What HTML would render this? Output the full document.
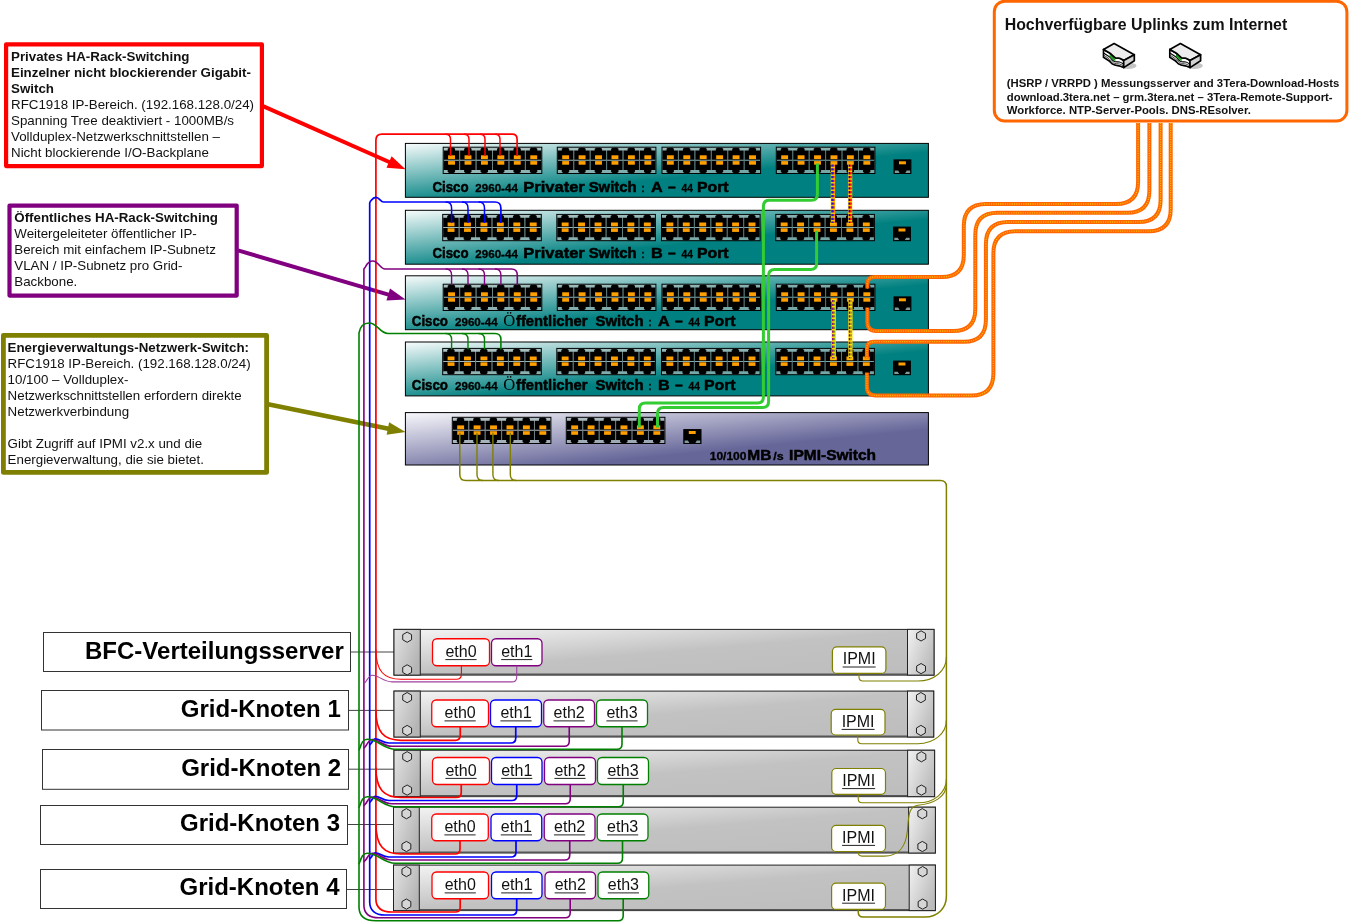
<!DOCTYPE html>
<html lang="de"><head><meta charset="utf-8"><title>Netzwerk</title>
<style>
html,body{margin:0;padding:0;background:#fff;}
body{width:1349px;height:922px;overflow:hidden;}
svg{display:block;font-family:'Liberation Sans', Arial, sans-serif;will-change:transform;}
.ann{font-size:13.33px;fill:#111;}
.b{font-weight:bold;}
.lbl{font-size:24px;font-weight:bold;fill:#000;text-anchor:end;}
.eth{font-size:16px;fill:#111;text-anchor:middle;}
.sw{font-weight:bold;fill:#000;}
.w{fill:none;stroke-linecap:butt;stroke-linejoin:round;}
</style></head><body>
<svg width="1349" height="922" viewBox="0 0 1349 922">
<defs>
<linearGradient id="gsw" x1="0" y1="0" x2="1" y2="1"><stop offset="0" stop-color="#f8fcfc"/><stop offset="0.58" stop-color="#008080"/><stop offset="1" stop-color="#008080"/></linearGradient>
<linearGradient id="gip" x1="0" y1="0" x2="1" y2="1"><stop offset="0" stop-color="#f8f8fc"/><stop offset="0.66" stop-color="#666699"/><stop offset="1" stop-color="#666699"/></linearGradient>
<linearGradient id="gsv" x1="0" y1="0" x2="1" y2="1"><stop offset="0" stop-color="#f6f6f6"/><stop offset="0.5" stop-color="#c2c2c2"/><stop offset="1" stop-color="#bdbdbd"/></linearGradient>
<linearGradient id="gear" x1="0" y1="0" x2="1" y2="0.6"><stop offset="0" stop-color="#e4e4e4"/><stop offset="1" stop-color="#b4b4b4"/></linearGradient>
<linearGradient id="gear2" x1="0" y1="0" x2="1" y2="0.6"><stop offset="0" stop-color="#f2f2f2"/><stop offset="1" stop-color="#bcbcbc"/></linearGradient>
</defs>
<rect width="1349" height="922" fill="#fff"/>

<line x1="263" y1="106.2" x2="390.87" y2="162.73" stroke="#ff0000" stroke-width="4"/>
<polygon points="405.50,169.20 386.49,167.68 391.58,156.16" fill="#ff0000"/>
<line x1="238" y1="250.4" x2="390.15" y2="295.09" stroke="#800080" stroke-width="4"/>
<polygon points="405.50,299.60 386.45,300.57 390.01,288.48" fill="#800080"/>
<line x1="268" y1="404.2" x2="389.82" y2="428.92" stroke="#808000" stroke-width="4.5"/>
<polygon points="405.50,432.10 386.61,434.69 389.11,422.35" fill="#808000"/>
<rect x="6.1" y="44.300000000000004" width="255.8" height="121.79999999999998" fill="#fff" stroke="#ff0000" stroke-width="4.2" stroke-linejoin="round"/>
<text class="ann b" x="11" y="60.5">Privates HA-Rack-Switching</text>
<text class="ann b" x="11" y="76.5">Einzelner nicht blockierender Gigabit-</text>
<text class="ann b" x="11" y="92.5">Switch</text>
<text class="ann" x="11" y="108.5">RFC1918 IP-Bereich. (192.168.128.0/24)</text>
<text class="ann" x="11" y="124.5">Spanning Tree deaktiviert - 1000MB/s</text>
<text class="ann" x="11" y="140.5">Vollduplex-Netzwerkschnittstellen –</text>
<text class="ann" x="11" y="156.5">Nicht blockierende I/O-Backplane</text>
<rect x="9.5" y="205.6" width="227.20000000000002" height="89.99999999999999" fill="#fff" stroke="#800080" stroke-width="4.2" stroke-linejoin="round"/>
<text class="ann b" x="14.3" y="222">Öffentliches HA-Rack-Switching</text>
<text class="ann" x="14.3" y="238">Weitergeleiteter öffentlicher IP-</text>
<text class="ann" x="14.3" y="254">Bereich mit einfachem IP-Subnetz</text>
<text class="ann" x="14.3" y="270">VLAN / IP-Subnetz pro Grid-</text>
<text class="ann" x="14.3" y="286">Backbone.</text>
<rect x="3.4" y="335.29999999999995" width="263.2" height="137.10000000000002" fill="#fff" stroke="#808000" stroke-width="4.8" stroke-linejoin="round"/>
<text class="ann b" x="7.6" y="352">Energieverwaltungs-Netzwerk-Switch:</text>
<text class="ann" x="7.6" y="368">RFC1918 IP-Bereich. (192.168.128.0/24)</text>
<text class="ann" x="7.6" y="384">10/100 – Vollduplex-</text>
<text class="ann" x="7.6" y="400">Netzwerkschnittstellen erfordern direkte</text>
<text class="ann" x="7.6" y="416">Netzwerkverbindung</text>
<text class="ann" x="7.6" y="448">Gibt Zugriff auf IPMI v2.x und die</text>
<text class="ann" x="7.6" y="464">Energieverwaltung, die sie bietet.</text>
<rect x="994.3" y="1.2" width="352.6" height="119.9" rx="10.5" ry="10.5" fill="#fff" stroke="#ff6600" stroke-width="3"/>
<text x="1004.7" y="30.2" font-size="15.9px" font-weight="bold" fill="#111">Hochverfügbare Uplinks zum Internet</text>
<text x="1006.8" y="87.3" font-size="11.33px" font-weight="bold" fill="#111">(HSRP / VRRPD ) Messungsserver and 3Tera-Download-Hosts</text>
<text x="1006.8" y="100.6" font-size="11.33px" font-weight="bold" fill="#111">download.3tera.net – grm.3tera.net – 3Tera-Remote-Support-</text>
<text x="1006.8" y="113.9" font-size="11.33px" font-weight="bold" fill="#111">Workforce. NTP-Server-Pools. DNS-REsolver.</text>
<g transform="translate(1103,43)" stroke-linejoin="round" stroke-linecap="round">
<ellipse cx="25" cy="22.8" rx="8.5" ry="3.2" fill="#b0b0b0" opacity="0.75"/>
<path d="M0.5,6.45 L6.3,9.8 C8.5,11.2 10,13.2 12.05,14.65 C13.4,15.6 14,15 15.9,15.1 C17.5,15.2 18.5,16.2 20.7,17.5 V24.6 C18.5,23.6 17.5,23 15.9,22.8 C13,22.5 11,22.3 9.2,20.9 C8,20 7.3,18.8 6.3,18 L0.5,14.2 Z" fill="#fff" stroke="#000" stroke-width="1.7"/>
<path d="M1,10.3 L6.3,13.8 C8.3,15.2 9,17 11,18.3 C13,19.4 14.5,18.6 16.5,19 C18,19.3 19,20.3 20.5,21" fill="none" stroke="#000" stroke-width="1.1"/>
<path d="M1,12.3 L6.3,15.9 C7.8,17 8.6,18.7 10.4,19.8 C12.5,20.9 14.5,20.6 16.5,21 C18,21.3 19,22 20.5,22.8" fill="none" stroke="#333" stroke-width="0.9"/>
<path d="M6.6,11.2 C8.6,12.6 10,14.4 12.4,15.8 L12.4,18.3 C10,17.2 8.4,15 6.6,13.8 Z" fill="#17a017"/>
<path d="M0.5,6.45 L11.1,0.5 L31.3,11.75 L20.7,17.5 C18.5,16.2 17.5,15.2 15.9,15.1 C14,15 13.4,15.6 12.05,14.65 C10,13.2 8.5,11.2 6.3,9.8 Z" fill="#ededed" stroke="#000" stroke-width="1.7"/>
<polygon points="20.7,17.5 31.3,11.75 31.3,17.8 20.7,24.6" fill="#d2d2d2" stroke="#000" stroke-width="1.7"/>
</g>
<g transform="translate(1169.3,43)" stroke-linejoin="round" stroke-linecap="round">
<ellipse cx="25" cy="22.8" rx="8.5" ry="3.2" fill="#b0b0b0" opacity="0.75"/>
<path d="M0.5,6.45 L6.3,9.8 C8.5,11.2 10,13.2 12.05,14.65 C13.4,15.6 14,15 15.9,15.1 C17.5,15.2 18.5,16.2 20.7,17.5 V24.6 C18.5,23.6 17.5,23 15.9,22.8 C13,22.5 11,22.3 9.2,20.9 C8,20 7.3,18.8 6.3,18 L0.5,14.2 Z" fill="#fff" stroke="#000" stroke-width="1.7"/>
<path d="M1,10.3 L6.3,13.8 C8.3,15.2 9,17 11,18.3 C13,19.4 14.5,18.6 16.5,19 C18,19.3 19,20.3 20.5,21" fill="none" stroke="#000" stroke-width="1.1"/>
<path d="M1,12.3 L6.3,15.9 C7.8,17 8.6,18.7 10.4,19.8 C12.5,20.9 14.5,20.6 16.5,21 C18,21.3 19,22 20.5,22.8" fill="none" stroke="#333" stroke-width="0.9"/>
<path d="M6.6,11.2 C8.6,12.6 10,14.4 12.4,15.8 L12.4,18.3 C10,17.2 8.4,15 6.6,13.8 Z" fill="#17a017"/>
<path d="M0.5,6.45 L11.1,0.5 L31.3,11.75 L20.7,17.5 C18.5,16.2 17.5,15.2 15.9,15.1 C14,15 13.4,15.6 12.05,14.65 C10,13.2 8.5,11.2 6.3,9.8 Z" fill="#ededed" stroke="#000" stroke-width="1.7"/>
<polygon points="20.7,17.5 31.3,11.75 31.3,17.8 20.7,24.6" fill="#d2d2d2" stroke="#000" stroke-width="1.7"/>
</g>
<rect x="405.4" y="143.4" width="523" height="53.9" fill="url(#gsw)" stroke="#000" stroke-width="1"/>
<g transform="translate(443.20,147.20)">
<rect x="0" y="0" width="98.60" height="26.3" fill="#a4b6b6" fill-opacity="0.72" stroke="#000" stroke-width="1"/>
<path d="M6.00,0.50 L10.40,0.50 L11.90,1.50 L11.90,3.40 L15.93,3.40 L15.93,12.50 L0.50,12.50 L0.50,3.40 L4.50,3.40 L4.50,1.50Z M0.50,13.50 L15.93,13.50 L15.93,22.90 L11.90,22.90 L11.90,24.80 L10.40,25.80 L6.00,25.80 L4.50,24.80 L4.50,22.90 L0.50,22.90Z M22.43,0.50 L26.83,0.50 L28.33,1.50 L28.33,3.40 L32.37,3.40 L32.37,12.50 L16.93,12.50 L16.93,3.40 L20.93,3.40 L20.93,1.50Z M16.93,13.50 L32.37,13.50 L32.37,22.90 L28.33,22.90 L28.33,24.80 L26.83,25.80 L22.43,25.80 L20.93,24.80 L20.93,22.90 L16.93,22.90Z M38.87,0.50 L43.27,0.50 L44.77,1.50 L44.77,3.40 L48.80,3.40 L48.80,12.50 L33.37,12.50 L33.37,3.40 L37.37,3.40 L37.37,1.50Z M33.37,13.50 L48.80,13.50 L48.80,22.90 L44.77,22.90 L44.77,24.80 L43.27,25.80 L38.87,25.80 L37.37,24.80 L37.37,22.90 L33.37,22.90Z M55.30,0.50 L59.70,0.50 L61.20,1.50 L61.20,3.40 L65.23,3.40 L65.23,12.50 L49.80,12.50 L49.80,3.40 L53.80,3.40 L53.80,1.50Z M49.80,13.50 L65.23,13.50 L65.23,22.90 L61.20,22.90 L61.20,24.80 L59.70,25.80 L55.30,25.80 L53.80,24.80 L53.80,22.90 L49.80,22.90Z M71.73,0.50 L76.13,0.50 L77.63,1.50 L77.63,3.40 L81.67,3.40 L81.67,12.50 L66.23,12.50 L66.23,3.40 L70.23,3.40 L70.23,1.50Z M66.23,13.50 L81.67,13.50 L81.67,22.90 L77.63,22.90 L77.63,24.80 L76.13,25.80 L71.73,25.80 L70.23,24.80 L70.23,22.90 L66.23,22.90Z M88.17,0.50 L92.57,0.50 L94.07,1.50 L94.07,3.40 L98.10,3.40 L98.10,12.50 L82.67,12.50 L82.67,3.40 L86.67,3.40 L86.67,1.50Z M82.67,13.50 L98.10,13.50 L98.10,22.90 L94.07,22.90 L94.07,24.80 L92.57,25.80 L88.17,25.80 L86.67,24.80 L86.67,22.90 L82.67,22.90Z" fill="#000"/>
<rect x="4.90" y="8.1" width="6.9" height="3.8" fill="#ffa000"/>
<rect x="4.90" y="13.9" width="6.9" height="3.6" fill="#ffa000"/>
<rect x="21.33" y="8.1" width="6.9" height="3.8" fill="#ffa000"/>
<rect x="21.33" y="13.9" width="6.9" height="3.6" fill="#ffa000"/>
<line x1="16.43" y1="3.4" x2="16.43" y2="22.900000000000002" stroke="#1c3030" stroke-opacity="0.38" stroke-width="1.2"/>
<rect x="37.77" y="8.1" width="6.9" height="3.8" fill="#ffa000"/>
<rect x="37.77" y="13.9" width="6.9" height="3.6" fill="#ffa000"/>
<line x1="32.87" y1="3.4" x2="32.87" y2="22.900000000000002" stroke="#1c3030" stroke-opacity="0.38" stroke-width="1.2"/>
<rect x="54.20" y="8.1" width="6.9" height="3.8" fill="#ffa000"/>
<rect x="54.20" y="13.9" width="6.9" height="3.6" fill="#ffa000"/>
<line x1="49.30" y1="3.4" x2="49.30" y2="22.900000000000002" stroke="#1c3030" stroke-opacity="0.38" stroke-width="1.2"/>
<rect x="70.63" y="8.1" width="6.9" height="3.8" fill="#ffa000"/>
<rect x="70.63" y="13.9" width="6.9" height="3.6" fill="#ffa000"/>
<line x1="65.73" y1="3.4" x2="65.73" y2="22.900000000000002" stroke="#1c3030" stroke-opacity="0.38" stroke-width="1.2"/>
<rect x="87.07" y="8.1" width="6.9" height="3.8" fill="#ffa000"/>
<rect x="87.07" y="13.9" width="6.9" height="3.6" fill="#ffa000"/>
<line x1="82.17" y1="3.4" x2="82.17" y2="22.900000000000002" stroke="#1c3030" stroke-opacity="0.38" stroke-width="1.2"/>
</g>
<g transform="translate(557.30,147.20)">
<rect x="0" y="0" width="98.60" height="26.3" fill="#a4b6b6" fill-opacity="0.72" stroke="#000" stroke-width="1"/>
<path d="M6.00,0.50 L10.40,0.50 L11.90,1.50 L11.90,3.40 L15.93,3.40 L15.93,12.50 L0.50,12.50 L0.50,3.40 L4.50,3.40 L4.50,1.50Z M0.50,13.50 L15.93,13.50 L15.93,22.90 L11.90,22.90 L11.90,24.80 L10.40,25.80 L6.00,25.80 L4.50,24.80 L4.50,22.90 L0.50,22.90Z M22.43,0.50 L26.83,0.50 L28.33,1.50 L28.33,3.40 L32.37,3.40 L32.37,12.50 L16.93,12.50 L16.93,3.40 L20.93,3.40 L20.93,1.50Z M16.93,13.50 L32.37,13.50 L32.37,22.90 L28.33,22.90 L28.33,24.80 L26.83,25.80 L22.43,25.80 L20.93,24.80 L20.93,22.90 L16.93,22.90Z M38.87,0.50 L43.27,0.50 L44.77,1.50 L44.77,3.40 L48.80,3.40 L48.80,12.50 L33.37,12.50 L33.37,3.40 L37.37,3.40 L37.37,1.50Z M33.37,13.50 L48.80,13.50 L48.80,22.90 L44.77,22.90 L44.77,24.80 L43.27,25.80 L38.87,25.80 L37.37,24.80 L37.37,22.90 L33.37,22.90Z M55.30,0.50 L59.70,0.50 L61.20,1.50 L61.20,3.40 L65.23,3.40 L65.23,12.50 L49.80,12.50 L49.80,3.40 L53.80,3.40 L53.80,1.50Z M49.80,13.50 L65.23,13.50 L65.23,22.90 L61.20,22.90 L61.20,24.80 L59.70,25.80 L55.30,25.80 L53.80,24.80 L53.80,22.90 L49.80,22.90Z M71.73,0.50 L76.13,0.50 L77.63,1.50 L77.63,3.40 L81.67,3.40 L81.67,12.50 L66.23,12.50 L66.23,3.40 L70.23,3.40 L70.23,1.50Z M66.23,13.50 L81.67,13.50 L81.67,22.90 L77.63,22.90 L77.63,24.80 L76.13,25.80 L71.73,25.80 L70.23,24.80 L70.23,22.90 L66.23,22.90Z M88.17,0.50 L92.57,0.50 L94.07,1.50 L94.07,3.40 L98.10,3.40 L98.10,12.50 L82.67,12.50 L82.67,3.40 L86.67,3.40 L86.67,1.50Z M82.67,13.50 L98.10,13.50 L98.10,22.90 L94.07,22.90 L94.07,24.80 L92.57,25.80 L88.17,25.80 L86.67,24.80 L86.67,22.90 L82.67,22.90Z" fill="#000"/>
<rect x="4.90" y="8.1" width="6.9" height="3.8" fill="#ffa000"/>
<rect x="4.90" y="13.9" width="6.9" height="3.6" fill="#ffa000"/>
<rect x="21.33" y="8.1" width="6.9" height="3.8" fill="#ffa000"/>
<rect x="21.33" y="13.9" width="6.9" height="3.6" fill="#ffa000"/>
<line x1="16.43" y1="3.4" x2="16.43" y2="22.900000000000002" stroke="#1c3030" stroke-opacity="0.38" stroke-width="1.2"/>
<rect x="37.77" y="8.1" width="6.9" height="3.8" fill="#ffa000"/>
<rect x="37.77" y="13.9" width="6.9" height="3.6" fill="#ffa000"/>
<line x1="32.87" y1="3.4" x2="32.87" y2="22.900000000000002" stroke="#1c3030" stroke-opacity="0.38" stroke-width="1.2"/>
<rect x="54.20" y="8.1" width="6.9" height="3.8" fill="#ffa000"/>
<rect x="54.20" y="13.9" width="6.9" height="3.6" fill="#ffa000"/>
<line x1="49.30" y1="3.4" x2="49.30" y2="22.900000000000002" stroke="#1c3030" stroke-opacity="0.38" stroke-width="1.2"/>
<rect x="70.63" y="8.1" width="6.9" height="3.8" fill="#ffa000"/>
<rect x="70.63" y="13.9" width="6.9" height="3.6" fill="#ffa000"/>
<line x1="65.73" y1="3.4" x2="65.73" y2="22.900000000000002" stroke="#1c3030" stroke-opacity="0.38" stroke-width="1.2"/>
<rect x="87.07" y="8.1" width="6.9" height="3.8" fill="#ffa000"/>
<rect x="87.07" y="13.9" width="6.9" height="3.6" fill="#ffa000"/>
<line x1="82.17" y1="3.4" x2="82.17" y2="22.900000000000002" stroke="#1c3030" stroke-opacity="0.38" stroke-width="1.2"/>
</g>
<g transform="translate(662.00,147.20)">
<rect x="0" y="0" width="98.60" height="26.3" fill="#a4b6b6" fill-opacity="0.72" stroke="#000" stroke-width="1"/>
<path d="M6.00,0.50 L10.40,0.50 L11.90,1.50 L11.90,3.40 L15.93,3.40 L15.93,12.50 L0.50,12.50 L0.50,3.40 L4.50,3.40 L4.50,1.50Z M0.50,13.50 L15.93,13.50 L15.93,22.90 L11.90,22.90 L11.90,24.80 L10.40,25.80 L6.00,25.80 L4.50,24.80 L4.50,22.90 L0.50,22.90Z M22.43,0.50 L26.83,0.50 L28.33,1.50 L28.33,3.40 L32.37,3.40 L32.37,12.50 L16.93,12.50 L16.93,3.40 L20.93,3.40 L20.93,1.50Z M16.93,13.50 L32.37,13.50 L32.37,22.90 L28.33,22.90 L28.33,24.80 L26.83,25.80 L22.43,25.80 L20.93,24.80 L20.93,22.90 L16.93,22.90Z M38.87,0.50 L43.27,0.50 L44.77,1.50 L44.77,3.40 L48.80,3.40 L48.80,12.50 L33.37,12.50 L33.37,3.40 L37.37,3.40 L37.37,1.50Z M33.37,13.50 L48.80,13.50 L48.80,22.90 L44.77,22.90 L44.77,24.80 L43.27,25.80 L38.87,25.80 L37.37,24.80 L37.37,22.90 L33.37,22.90Z M55.30,0.50 L59.70,0.50 L61.20,1.50 L61.20,3.40 L65.23,3.40 L65.23,12.50 L49.80,12.50 L49.80,3.40 L53.80,3.40 L53.80,1.50Z M49.80,13.50 L65.23,13.50 L65.23,22.90 L61.20,22.90 L61.20,24.80 L59.70,25.80 L55.30,25.80 L53.80,24.80 L53.80,22.90 L49.80,22.90Z M71.73,0.50 L76.13,0.50 L77.63,1.50 L77.63,3.40 L81.67,3.40 L81.67,12.50 L66.23,12.50 L66.23,3.40 L70.23,3.40 L70.23,1.50Z M66.23,13.50 L81.67,13.50 L81.67,22.90 L77.63,22.90 L77.63,24.80 L76.13,25.80 L71.73,25.80 L70.23,24.80 L70.23,22.90 L66.23,22.90Z M88.17,0.50 L92.57,0.50 L94.07,1.50 L94.07,3.40 L98.10,3.40 L98.10,12.50 L82.67,12.50 L82.67,3.40 L86.67,3.40 L86.67,1.50Z M82.67,13.50 L98.10,13.50 L98.10,22.90 L94.07,22.90 L94.07,24.80 L92.57,25.80 L88.17,25.80 L86.67,24.80 L86.67,22.90 L82.67,22.90Z" fill="#000"/>
<rect x="4.90" y="8.1" width="6.9" height="3.8" fill="#ffa000"/>
<rect x="4.90" y="13.9" width="6.9" height="3.6" fill="#ffa000"/>
<rect x="21.33" y="8.1" width="6.9" height="3.8" fill="#ffa000"/>
<rect x="21.33" y="13.9" width="6.9" height="3.6" fill="#ffa000"/>
<line x1="16.43" y1="3.4" x2="16.43" y2="22.900000000000002" stroke="#1c3030" stroke-opacity="0.38" stroke-width="1.2"/>
<rect x="37.77" y="8.1" width="6.9" height="3.8" fill="#ffa000"/>
<rect x="37.77" y="13.9" width="6.9" height="3.6" fill="#ffa000"/>
<line x1="32.87" y1="3.4" x2="32.87" y2="22.900000000000002" stroke="#1c3030" stroke-opacity="0.38" stroke-width="1.2"/>
<rect x="54.20" y="8.1" width="6.9" height="3.8" fill="#ffa000"/>
<rect x="54.20" y="13.9" width="6.9" height="3.6" fill="#ffa000"/>
<line x1="49.30" y1="3.4" x2="49.30" y2="22.900000000000002" stroke="#1c3030" stroke-opacity="0.38" stroke-width="1.2"/>
<rect x="70.63" y="8.1" width="6.9" height="3.8" fill="#ffa000"/>
<rect x="70.63" y="13.9" width="6.9" height="3.6" fill="#ffa000"/>
<line x1="65.73" y1="3.4" x2="65.73" y2="22.900000000000002" stroke="#1c3030" stroke-opacity="0.38" stroke-width="1.2"/>
<rect x="87.07" y="8.1" width="6.9" height="3.8" fill="#ffa000"/>
<rect x="87.07" y="13.9" width="6.9" height="3.6" fill="#ffa000"/>
<line x1="82.17" y1="3.4" x2="82.17" y2="22.900000000000002" stroke="#1c3030" stroke-opacity="0.38" stroke-width="1.2"/>
</g>
<g transform="translate(776.30,147.20)">
<rect x="0" y="0" width="98.60" height="26.3" fill="#a4b6b6" fill-opacity="0.72" stroke="#000" stroke-width="1"/>
<path d="M6.00,0.50 L10.40,0.50 L11.90,1.50 L11.90,3.40 L15.93,3.40 L15.93,12.50 L0.50,12.50 L0.50,3.40 L4.50,3.40 L4.50,1.50Z M0.50,13.50 L15.93,13.50 L15.93,22.90 L11.90,22.90 L11.90,24.80 L10.40,25.80 L6.00,25.80 L4.50,24.80 L4.50,22.90 L0.50,22.90Z M22.43,0.50 L26.83,0.50 L28.33,1.50 L28.33,3.40 L32.37,3.40 L32.37,12.50 L16.93,12.50 L16.93,3.40 L20.93,3.40 L20.93,1.50Z M16.93,13.50 L32.37,13.50 L32.37,22.90 L28.33,22.90 L28.33,24.80 L26.83,25.80 L22.43,25.80 L20.93,24.80 L20.93,22.90 L16.93,22.90Z M38.87,0.50 L43.27,0.50 L44.77,1.50 L44.77,3.40 L48.80,3.40 L48.80,12.50 L33.37,12.50 L33.37,3.40 L37.37,3.40 L37.37,1.50Z M33.37,13.50 L48.80,13.50 L48.80,22.90 L44.77,22.90 L44.77,24.80 L43.27,25.80 L38.87,25.80 L37.37,24.80 L37.37,22.90 L33.37,22.90Z M55.30,0.50 L59.70,0.50 L61.20,1.50 L61.20,3.40 L65.23,3.40 L65.23,12.50 L49.80,12.50 L49.80,3.40 L53.80,3.40 L53.80,1.50Z M49.80,13.50 L65.23,13.50 L65.23,22.90 L61.20,22.90 L61.20,24.80 L59.70,25.80 L55.30,25.80 L53.80,24.80 L53.80,22.90 L49.80,22.90Z M71.73,0.50 L76.13,0.50 L77.63,1.50 L77.63,3.40 L81.67,3.40 L81.67,12.50 L66.23,12.50 L66.23,3.40 L70.23,3.40 L70.23,1.50Z M66.23,13.50 L81.67,13.50 L81.67,22.90 L77.63,22.90 L77.63,24.80 L76.13,25.80 L71.73,25.80 L70.23,24.80 L70.23,22.90 L66.23,22.90Z M88.17,0.50 L92.57,0.50 L94.07,1.50 L94.07,3.40 L98.10,3.40 L98.10,12.50 L82.67,12.50 L82.67,3.40 L86.67,3.40 L86.67,1.50Z M82.67,13.50 L98.10,13.50 L98.10,22.90 L94.07,22.90 L94.07,24.80 L92.57,25.80 L88.17,25.80 L86.67,24.80 L86.67,22.90 L82.67,22.90Z" fill="#000"/>
<rect x="4.90" y="8.1" width="6.9" height="3.8" fill="#ffa000"/>
<rect x="4.90" y="13.9" width="6.9" height="3.6" fill="#ffa000"/>
<rect x="21.33" y="8.1" width="6.9" height="3.8" fill="#ffa000"/>
<rect x="21.33" y="13.9" width="6.9" height="3.6" fill="#ffa000"/>
<line x1="16.43" y1="3.4" x2="16.43" y2="22.900000000000002" stroke="#1c3030" stroke-opacity="0.38" stroke-width="1.2"/>
<rect x="37.77" y="8.1" width="6.9" height="3.8" fill="#ffa000"/>
<rect x="37.77" y="13.9" width="6.9" height="3.6" fill="#ffa000"/>
<line x1="32.87" y1="3.4" x2="32.87" y2="22.900000000000002" stroke="#1c3030" stroke-opacity="0.38" stroke-width="1.2"/>
<rect x="54.20" y="8.1" width="6.9" height="3.8" fill="#ffa000"/>
<rect x="54.20" y="13.9" width="6.9" height="3.6" fill="#ffa000"/>
<line x1="49.30" y1="3.4" x2="49.30" y2="22.900000000000002" stroke="#1c3030" stroke-opacity="0.38" stroke-width="1.2"/>
<rect x="70.63" y="8.1" width="6.9" height="3.8" fill="#ffa000"/>
<rect x="70.63" y="13.9" width="6.9" height="3.6" fill="#ffa000"/>
<line x1="65.73" y1="3.4" x2="65.73" y2="22.900000000000002" stroke="#1c3030" stroke-opacity="0.38" stroke-width="1.2"/>
<rect x="87.07" y="8.1" width="6.9" height="3.8" fill="#ffa000"/>
<rect x="87.07" y="13.9" width="6.9" height="3.6" fill="#ffa000"/>
<line x1="82.17" y1="3.4" x2="82.17" y2="22.900000000000002" stroke="#1c3030" stroke-opacity="0.38" stroke-width="1.2"/>
</g>
<g transform="translate(894.00,159.90)">
<rect x="0" y="0" width="16.9" height="13.6" fill="#000" stroke="#000" stroke-width="1"/>
<polygon points="0.8,13.0 0.8,10.6 4.2,10.6 5.6,13.0" fill="#7f9c9c"/>
<polygon points="16.099999999999998,13.0 16.099999999999998,10.6 12.7,10.6 11.299999999999999,13.0" fill="#7f9c9c"/>
<rect x="5" y="1.4" width="6.9" height="3" fill="#ffa000"/>
</g>
<text class="sw" x="432.4" y="191.8" font-size="15px" stroke="#000" stroke-width="0.5" textLength="36.2" lengthAdjust="spacingAndGlyphs">Cisco</text>
<text class="sw" x="475.3" y="191.8" font-size="11.5px" stroke="#000" stroke-width="0.3" textLength="42.6" lengthAdjust="spacingAndGlyphs">2960-44</text>
<text class="sw" x="523.3" y="191.8" font-size="15px" stroke="#000" stroke-width="0.5" textLength="61.5" lengthAdjust="spacingAndGlyphs">Privater</text>
<text class="sw" x="588.7" y="191.8" font-size="15px" stroke="#000" stroke-width="0.5" textLength="48.0" lengthAdjust="spacingAndGlyphs">Switch</text>
<text class="sw" x="641.5" y="191.8" font-size="11.5px" stroke="#000" stroke-width="0.3" textLength="3.0" lengthAdjust="spacingAndGlyphs">:</text>
<text class="sw" x="651" y="191.8" font-size="15px" stroke="#000" stroke-width="0.5" textLength="11.7" lengthAdjust="spacingAndGlyphs">A</text>
<text class="sw" x="667.9" y="191.8" font-size="15px" stroke="#000" stroke-width="0.5" textLength="7.7" lengthAdjust="spacingAndGlyphs">–</text>
<text class="sw" x="681.6" y="191.8" font-size="11.5px" stroke="#000" stroke-width="0.3" textLength="11.4" lengthAdjust="spacingAndGlyphs">44</text>
<text class="sw" x="697" y="191.8" font-size="15px" stroke="#000" stroke-width="0.5" textLength="31.6" lengthAdjust="spacingAndGlyphs">Port</text>
<rect x="405.4" y="210.3" width="523" height="53.9" fill="url(#gsw)" stroke="#000" stroke-width="1"/>
<g transform="translate(442.70,214.40)">
<rect x="0" y="0" width="98.60" height="26.3" fill="#a4b6b6" fill-opacity="0.72" stroke="#000" stroke-width="1"/>
<path d="M6.00,0.50 L10.40,0.50 L11.90,1.50 L11.90,3.40 L15.93,3.40 L15.93,12.50 L0.50,12.50 L0.50,3.40 L4.50,3.40 L4.50,1.50Z M0.50,13.50 L15.93,13.50 L15.93,22.90 L11.90,22.90 L11.90,24.80 L10.40,25.80 L6.00,25.80 L4.50,24.80 L4.50,22.90 L0.50,22.90Z M22.43,0.50 L26.83,0.50 L28.33,1.50 L28.33,3.40 L32.37,3.40 L32.37,12.50 L16.93,12.50 L16.93,3.40 L20.93,3.40 L20.93,1.50Z M16.93,13.50 L32.37,13.50 L32.37,22.90 L28.33,22.90 L28.33,24.80 L26.83,25.80 L22.43,25.80 L20.93,24.80 L20.93,22.90 L16.93,22.90Z M38.87,0.50 L43.27,0.50 L44.77,1.50 L44.77,3.40 L48.80,3.40 L48.80,12.50 L33.37,12.50 L33.37,3.40 L37.37,3.40 L37.37,1.50Z M33.37,13.50 L48.80,13.50 L48.80,22.90 L44.77,22.90 L44.77,24.80 L43.27,25.80 L38.87,25.80 L37.37,24.80 L37.37,22.90 L33.37,22.90Z M55.30,0.50 L59.70,0.50 L61.20,1.50 L61.20,3.40 L65.23,3.40 L65.23,12.50 L49.80,12.50 L49.80,3.40 L53.80,3.40 L53.80,1.50Z M49.80,13.50 L65.23,13.50 L65.23,22.90 L61.20,22.90 L61.20,24.80 L59.70,25.80 L55.30,25.80 L53.80,24.80 L53.80,22.90 L49.80,22.90Z M71.73,0.50 L76.13,0.50 L77.63,1.50 L77.63,3.40 L81.67,3.40 L81.67,12.50 L66.23,12.50 L66.23,3.40 L70.23,3.40 L70.23,1.50Z M66.23,13.50 L81.67,13.50 L81.67,22.90 L77.63,22.90 L77.63,24.80 L76.13,25.80 L71.73,25.80 L70.23,24.80 L70.23,22.90 L66.23,22.90Z M88.17,0.50 L92.57,0.50 L94.07,1.50 L94.07,3.40 L98.10,3.40 L98.10,12.50 L82.67,12.50 L82.67,3.40 L86.67,3.40 L86.67,1.50Z M82.67,13.50 L98.10,13.50 L98.10,22.90 L94.07,22.90 L94.07,24.80 L92.57,25.80 L88.17,25.80 L86.67,24.80 L86.67,22.90 L82.67,22.90Z" fill="#000"/>
<rect x="4.90" y="8.1" width="6.9" height="3.8" fill="#ffa000"/>
<rect x="4.90" y="13.9" width="6.9" height="3.6" fill="#ffa000"/>
<rect x="21.33" y="8.1" width="6.9" height="3.8" fill="#ffa000"/>
<rect x="21.33" y="13.9" width="6.9" height="3.6" fill="#ffa000"/>
<line x1="16.43" y1="3.4" x2="16.43" y2="22.900000000000002" stroke="#1c3030" stroke-opacity="0.38" stroke-width="1.2"/>
<rect x="37.77" y="8.1" width="6.9" height="3.8" fill="#ffa000"/>
<rect x="37.77" y="13.9" width="6.9" height="3.6" fill="#ffa000"/>
<line x1="32.87" y1="3.4" x2="32.87" y2="22.900000000000002" stroke="#1c3030" stroke-opacity="0.38" stroke-width="1.2"/>
<rect x="54.20" y="8.1" width="6.9" height="3.8" fill="#ffa000"/>
<rect x="54.20" y="13.9" width="6.9" height="3.6" fill="#ffa000"/>
<line x1="49.30" y1="3.4" x2="49.30" y2="22.900000000000002" stroke="#1c3030" stroke-opacity="0.38" stroke-width="1.2"/>
<rect x="70.63" y="8.1" width="6.9" height="3.8" fill="#ffa000"/>
<rect x="70.63" y="13.9" width="6.9" height="3.6" fill="#ffa000"/>
<line x1="65.73" y1="3.4" x2="65.73" y2="22.900000000000002" stroke="#1c3030" stroke-opacity="0.38" stroke-width="1.2"/>
<rect x="87.07" y="8.1" width="6.9" height="3.8" fill="#ffa000"/>
<rect x="87.07" y="13.9" width="6.9" height="3.6" fill="#ffa000"/>
<line x1="82.17" y1="3.4" x2="82.17" y2="22.900000000000002" stroke="#1c3030" stroke-opacity="0.38" stroke-width="1.2"/>
</g>
<g transform="translate(556.80,214.40)">
<rect x="0" y="0" width="98.60" height="26.3" fill="#a4b6b6" fill-opacity="0.72" stroke="#000" stroke-width="1"/>
<path d="M6.00,0.50 L10.40,0.50 L11.90,1.50 L11.90,3.40 L15.93,3.40 L15.93,12.50 L0.50,12.50 L0.50,3.40 L4.50,3.40 L4.50,1.50Z M0.50,13.50 L15.93,13.50 L15.93,22.90 L11.90,22.90 L11.90,24.80 L10.40,25.80 L6.00,25.80 L4.50,24.80 L4.50,22.90 L0.50,22.90Z M22.43,0.50 L26.83,0.50 L28.33,1.50 L28.33,3.40 L32.37,3.40 L32.37,12.50 L16.93,12.50 L16.93,3.40 L20.93,3.40 L20.93,1.50Z M16.93,13.50 L32.37,13.50 L32.37,22.90 L28.33,22.90 L28.33,24.80 L26.83,25.80 L22.43,25.80 L20.93,24.80 L20.93,22.90 L16.93,22.90Z M38.87,0.50 L43.27,0.50 L44.77,1.50 L44.77,3.40 L48.80,3.40 L48.80,12.50 L33.37,12.50 L33.37,3.40 L37.37,3.40 L37.37,1.50Z M33.37,13.50 L48.80,13.50 L48.80,22.90 L44.77,22.90 L44.77,24.80 L43.27,25.80 L38.87,25.80 L37.37,24.80 L37.37,22.90 L33.37,22.90Z M55.30,0.50 L59.70,0.50 L61.20,1.50 L61.20,3.40 L65.23,3.40 L65.23,12.50 L49.80,12.50 L49.80,3.40 L53.80,3.40 L53.80,1.50Z M49.80,13.50 L65.23,13.50 L65.23,22.90 L61.20,22.90 L61.20,24.80 L59.70,25.80 L55.30,25.80 L53.80,24.80 L53.80,22.90 L49.80,22.90Z M71.73,0.50 L76.13,0.50 L77.63,1.50 L77.63,3.40 L81.67,3.40 L81.67,12.50 L66.23,12.50 L66.23,3.40 L70.23,3.40 L70.23,1.50Z M66.23,13.50 L81.67,13.50 L81.67,22.90 L77.63,22.90 L77.63,24.80 L76.13,25.80 L71.73,25.80 L70.23,24.80 L70.23,22.90 L66.23,22.90Z M88.17,0.50 L92.57,0.50 L94.07,1.50 L94.07,3.40 L98.10,3.40 L98.10,12.50 L82.67,12.50 L82.67,3.40 L86.67,3.40 L86.67,1.50Z M82.67,13.50 L98.10,13.50 L98.10,22.90 L94.07,22.90 L94.07,24.80 L92.57,25.80 L88.17,25.80 L86.67,24.80 L86.67,22.90 L82.67,22.90Z" fill="#000"/>
<rect x="4.90" y="8.1" width="6.9" height="3.8" fill="#ffa000"/>
<rect x="4.90" y="13.9" width="6.9" height="3.6" fill="#ffa000"/>
<rect x="21.33" y="8.1" width="6.9" height="3.8" fill="#ffa000"/>
<rect x="21.33" y="13.9" width="6.9" height="3.6" fill="#ffa000"/>
<line x1="16.43" y1="3.4" x2="16.43" y2="22.900000000000002" stroke="#1c3030" stroke-opacity="0.38" stroke-width="1.2"/>
<rect x="37.77" y="8.1" width="6.9" height="3.8" fill="#ffa000"/>
<rect x="37.77" y="13.9" width="6.9" height="3.6" fill="#ffa000"/>
<line x1="32.87" y1="3.4" x2="32.87" y2="22.900000000000002" stroke="#1c3030" stroke-opacity="0.38" stroke-width="1.2"/>
<rect x="54.20" y="8.1" width="6.9" height="3.8" fill="#ffa000"/>
<rect x="54.20" y="13.9" width="6.9" height="3.6" fill="#ffa000"/>
<line x1="49.30" y1="3.4" x2="49.30" y2="22.900000000000002" stroke="#1c3030" stroke-opacity="0.38" stroke-width="1.2"/>
<rect x="70.63" y="8.1" width="6.9" height="3.8" fill="#ffa000"/>
<rect x="70.63" y="13.9" width="6.9" height="3.6" fill="#ffa000"/>
<line x1="65.73" y1="3.4" x2="65.73" y2="22.900000000000002" stroke="#1c3030" stroke-opacity="0.38" stroke-width="1.2"/>
<rect x="87.07" y="8.1" width="6.9" height="3.8" fill="#ffa000"/>
<rect x="87.07" y="13.9" width="6.9" height="3.6" fill="#ffa000"/>
<line x1="82.17" y1="3.4" x2="82.17" y2="22.900000000000002" stroke="#1c3030" stroke-opacity="0.38" stroke-width="1.2"/>
</g>
<g transform="translate(661.50,214.40)">
<rect x="0" y="0" width="98.60" height="26.3" fill="#a4b6b6" fill-opacity="0.72" stroke="#000" stroke-width="1"/>
<path d="M6.00,0.50 L10.40,0.50 L11.90,1.50 L11.90,3.40 L15.93,3.40 L15.93,12.50 L0.50,12.50 L0.50,3.40 L4.50,3.40 L4.50,1.50Z M0.50,13.50 L15.93,13.50 L15.93,22.90 L11.90,22.90 L11.90,24.80 L10.40,25.80 L6.00,25.80 L4.50,24.80 L4.50,22.90 L0.50,22.90Z M22.43,0.50 L26.83,0.50 L28.33,1.50 L28.33,3.40 L32.37,3.40 L32.37,12.50 L16.93,12.50 L16.93,3.40 L20.93,3.40 L20.93,1.50Z M16.93,13.50 L32.37,13.50 L32.37,22.90 L28.33,22.90 L28.33,24.80 L26.83,25.80 L22.43,25.80 L20.93,24.80 L20.93,22.90 L16.93,22.90Z M38.87,0.50 L43.27,0.50 L44.77,1.50 L44.77,3.40 L48.80,3.40 L48.80,12.50 L33.37,12.50 L33.37,3.40 L37.37,3.40 L37.37,1.50Z M33.37,13.50 L48.80,13.50 L48.80,22.90 L44.77,22.90 L44.77,24.80 L43.27,25.80 L38.87,25.80 L37.37,24.80 L37.37,22.90 L33.37,22.90Z M55.30,0.50 L59.70,0.50 L61.20,1.50 L61.20,3.40 L65.23,3.40 L65.23,12.50 L49.80,12.50 L49.80,3.40 L53.80,3.40 L53.80,1.50Z M49.80,13.50 L65.23,13.50 L65.23,22.90 L61.20,22.90 L61.20,24.80 L59.70,25.80 L55.30,25.80 L53.80,24.80 L53.80,22.90 L49.80,22.90Z M71.73,0.50 L76.13,0.50 L77.63,1.50 L77.63,3.40 L81.67,3.40 L81.67,12.50 L66.23,12.50 L66.23,3.40 L70.23,3.40 L70.23,1.50Z M66.23,13.50 L81.67,13.50 L81.67,22.90 L77.63,22.90 L77.63,24.80 L76.13,25.80 L71.73,25.80 L70.23,24.80 L70.23,22.90 L66.23,22.90Z M88.17,0.50 L92.57,0.50 L94.07,1.50 L94.07,3.40 L98.10,3.40 L98.10,12.50 L82.67,12.50 L82.67,3.40 L86.67,3.40 L86.67,1.50Z M82.67,13.50 L98.10,13.50 L98.10,22.90 L94.07,22.90 L94.07,24.80 L92.57,25.80 L88.17,25.80 L86.67,24.80 L86.67,22.90 L82.67,22.90Z" fill="#000"/>
<rect x="4.90" y="8.1" width="6.9" height="3.8" fill="#ffa000"/>
<rect x="4.90" y="13.9" width="6.9" height="3.6" fill="#ffa000"/>
<rect x="21.33" y="8.1" width="6.9" height="3.8" fill="#ffa000"/>
<rect x="21.33" y="13.9" width="6.9" height="3.6" fill="#ffa000"/>
<line x1="16.43" y1="3.4" x2="16.43" y2="22.900000000000002" stroke="#1c3030" stroke-opacity="0.38" stroke-width="1.2"/>
<rect x="37.77" y="8.1" width="6.9" height="3.8" fill="#ffa000"/>
<rect x="37.77" y="13.9" width="6.9" height="3.6" fill="#ffa000"/>
<line x1="32.87" y1="3.4" x2="32.87" y2="22.900000000000002" stroke="#1c3030" stroke-opacity="0.38" stroke-width="1.2"/>
<rect x="54.20" y="8.1" width="6.9" height="3.8" fill="#ffa000"/>
<rect x="54.20" y="13.9" width="6.9" height="3.6" fill="#ffa000"/>
<line x1="49.30" y1="3.4" x2="49.30" y2="22.900000000000002" stroke="#1c3030" stroke-opacity="0.38" stroke-width="1.2"/>
<rect x="70.63" y="8.1" width="6.9" height="3.8" fill="#ffa000"/>
<rect x="70.63" y="13.9" width="6.9" height="3.6" fill="#ffa000"/>
<line x1="65.73" y1="3.4" x2="65.73" y2="22.900000000000002" stroke="#1c3030" stroke-opacity="0.38" stroke-width="1.2"/>
<rect x="87.07" y="8.1" width="6.9" height="3.8" fill="#ffa000"/>
<rect x="87.07" y="13.9" width="6.9" height="3.6" fill="#ffa000"/>
<line x1="82.17" y1="3.4" x2="82.17" y2="22.900000000000002" stroke="#1c3030" stroke-opacity="0.38" stroke-width="1.2"/>
</g>
<g transform="translate(775.80,214.40)">
<rect x="0" y="0" width="98.60" height="26.3" fill="#a4b6b6" fill-opacity="0.72" stroke="#000" stroke-width="1"/>
<path d="M6.00,0.50 L10.40,0.50 L11.90,1.50 L11.90,3.40 L15.93,3.40 L15.93,12.50 L0.50,12.50 L0.50,3.40 L4.50,3.40 L4.50,1.50Z M0.50,13.50 L15.93,13.50 L15.93,22.90 L11.90,22.90 L11.90,24.80 L10.40,25.80 L6.00,25.80 L4.50,24.80 L4.50,22.90 L0.50,22.90Z M22.43,0.50 L26.83,0.50 L28.33,1.50 L28.33,3.40 L32.37,3.40 L32.37,12.50 L16.93,12.50 L16.93,3.40 L20.93,3.40 L20.93,1.50Z M16.93,13.50 L32.37,13.50 L32.37,22.90 L28.33,22.90 L28.33,24.80 L26.83,25.80 L22.43,25.80 L20.93,24.80 L20.93,22.90 L16.93,22.90Z M38.87,0.50 L43.27,0.50 L44.77,1.50 L44.77,3.40 L48.80,3.40 L48.80,12.50 L33.37,12.50 L33.37,3.40 L37.37,3.40 L37.37,1.50Z M33.37,13.50 L48.80,13.50 L48.80,22.90 L44.77,22.90 L44.77,24.80 L43.27,25.80 L38.87,25.80 L37.37,24.80 L37.37,22.90 L33.37,22.90Z M55.30,0.50 L59.70,0.50 L61.20,1.50 L61.20,3.40 L65.23,3.40 L65.23,12.50 L49.80,12.50 L49.80,3.40 L53.80,3.40 L53.80,1.50Z M49.80,13.50 L65.23,13.50 L65.23,22.90 L61.20,22.90 L61.20,24.80 L59.70,25.80 L55.30,25.80 L53.80,24.80 L53.80,22.90 L49.80,22.90Z M71.73,0.50 L76.13,0.50 L77.63,1.50 L77.63,3.40 L81.67,3.40 L81.67,12.50 L66.23,12.50 L66.23,3.40 L70.23,3.40 L70.23,1.50Z M66.23,13.50 L81.67,13.50 L81.67,22.90 L77.63,22.90 L77.63,24.80 L76.13,25.80 L71.73,25.80 L70.23,24.80 L70.23,22.90 L66.23,22.90Z M88.17,0.50 L92.57,0.50 L94.07,1.50 L94.07,3.40 L98.10,3.40 L98.10,12.50 L82.67,12.50 L82.67,3.40 L86.67,3.40 L86.67,1.50Z M82.67,13.50 L98.10,13.50 L98.10,22.90 L94.07,22.90 L94.07,24.80 L92.57,25.80 L88.17,25.80 L86.67,24.80 L86.67,22.90 L82.67,22.90Z" fill="#000"/>
<rect x="4.90" y="8.1" width="6.9" height="3.8" fill="#ffa000"/>
<rect x="4.90" y="13.9" width="6.9" height="3.6" fill="#ffa000"/>
<rect x="21.33" y="8.1" width="6.9" height="3.8" fill="#ffa000"/>
<rect x="21.33" y="13.9" width="6.9" height="3.6" fill="#ffa000"/>
<line x1="16.43" y1="3.4" x2="16.43" y2="22.900000000000002" stroke="#1c3030" stroke-opacity="0.38" stroke-width="1.2"/>
<rect x="37.77" y="8.1" width="6.9" height="3.8" fill="#ffa000"/>
<rect x="37.77" y="13.9" width="6.9" height="3.6" fill="#ffa000"/>
<line x1="32.87" y1="3.4" x2="32.87" y2="22.900000000000002" stroke="#1c3030" stroke-opacity="0.38" stroke-width="1.2"/>
<rect x="54.20" y="8.1" width="6.9" height="3.8" fill="#ffa000"/>
<rect x="54.20" y="13.9" width="6.9" height="3.6" fill="#ffa000"/>
<line x1="49.30" y1="3.4" x2="49.30" y2="22.900000000000002" stroke="#1c3030" stroke-opacity="0.38" stroke-width="1.2"/>
<rect x="70.63" y="8.1" width="6.9" height="3.8" fill="#ffa000"/>
<rect x="70.63" y="13.9" width="6.9" height="3.6" fill="#ffa000"/>
<line x1="65.73" y1="3.4" x2="65.73" y2="22.900000000000002" stroke="#1c3030" stroke-opacity="0.38" stroke-width="1.2"/>
<rect x="87.07" y="8.1" width="6.9" height="3.8" fill="#ffa000"/>
<rect x="87.07" y="13.9" width="6.9" height="3.6" fill="#ffa000"/>
<line x1="82.17" y1="3.4" x2="82.17" y2="22.900000000000002" stroke="#1c3030" stroke-opacity="0.38" stroke-width="1.2"/>
</g>
<g transform="translate(893.50,227.10)">
<rect x="0" y="0" width="16.9" height="13.6" fill="#000" stroke="#000" stroke-width="1"/>
<polygon points="0.8,13.0 0.8,10.6 4.2,10.6 5.6,13.0" fill="#7f9c9c"/>
<polygon points="16.099999999999998,13.0 16.099999999999998,10.6 12.7,10.6 11.299999999999999,13.0" fill="#7f9c9c"/>
<rect x="5" y="1.4" width="6.9" height="3" fill="#ffa000"/>
</g>
<text class="sw" x="432.4" y="258.2" font-size="15px" stroke="#000" stroke-width="0.5" textLength="36.2" lengthAdjust="spacingAndGlyphs">Cisco</text>
<text class="sw" x="475.3" y="258.2" font-size="11.5px" stroke="#000" stroke-width="0.3" textLength="42.6" lengthAdjust="spacingAndGlyphs">2960-44</text>
<text class="sw" x="523.3" y="258.2" font-size="15px" stroke="#000" stroke-width="0.5" textLength="61.5" lengthAdjust="spacingAndGlyphs">Privater</text>
<text class="sw" x="588.7" y="258.2" font-size="15px" stroke="#000" stroke-width="0.5" textLength="48.0" lengthAdjust="spacingAndGlyphs">Switch</text>
<text class="sw" x="641.5" y="258.2" font-size="11.5px" stroke="#000" stroke-width="0.3" textLength="3.0" lengthAdjust="spacingAndGlyphs">:</text>
<text class="sw" x="651" y="258.2" font-size="15px" stroke="#000" stroke-width="0.5" textLength="11.7" lengthAdjust="spacingAndGlyphs">B</text>
<text class="sw" x="667.9" y="258.2" font-size="15px" stroke="#000" stroke-width="0.5" textLength="7.7" lengthAdjust="spacingAndGlyphs">–</text>
<text class="sw" x="681.6" y="258.2" font-size="11.5px" stroke="#000" stroke-width="0.3" textLength="11.4" lengthAdjust="spacingAndGlyphs">44</text>
<text class="sw" x="697" y="258.2" font-size="15px" stroke="#000" stroke-width="0.5" textLength="31.6" lengthAdjust="spacingAndGlyphs">Port</text>
<rect x="405.4" y="275.8" width="523" height="53.9" fill="url(#gsw)" stroke="#000" stroke-width="1"/>
<g transform="translate(443.20,284.20)">
<rect x="0" y="0" width="98.60" height="26.3" fill="#a4b6b6" fill-opacity="0.72" stroke="#000" stroke-width="1"/>
<path d="M6.00,0.50 L10.40,0.50 L11.90,1.50 L11.90,3.40 L15.93,3.40 L15.93,12.50 L0.50,12.50 L0.50,3.40 L4.50,3.40 L4.50,1.50Z M0.50,13.50 L15.93,13.50 L15.93,22.90 L11.90,22.90 L11.90,24.80 L10.40,25.80 L6.00,25.80 L4.50,24.80 L4.50,22.90 L0.50,22.90Z M22.43,0.50 L26.83,0.50 L28.33,1.50 L28.33,3.40 L32.37,3.40 L32.37,12.50 L16.93,12.50 L16.93,3.40 L20.93,3.40 L20.93,1.50Z M16.93,13.50 L32.37,13.50 L32.37,22.90 L28.33,22.90 L28.33,24.80 L26.83,25.80 L22.43,25.80 L20.93,24.80 L20.93,22.90 L16.93,22.90Z M38.87,0.50 L43.27,0.50 L44.77,1.50 L44.77,3.40 L48.80,3.40 L48.80,12.50 L33.37,12.50 L33.37,3.40 L37.37,3.40 L37.37,1.50Z M33.37,13.50 L48.80,13.50 L48.80,22.90 L44.77,22.90 L44.77,24.80 L43.27,25.80 L38.87,25.80 L37.37,24.80 L37.37,22.90 L33.37,22.90Z M55.30,0.50 L59.70,0.50 L61.20,1.50 L61.20,3.40 L65.23,3.40 L65.23,12.50 L49.80,12.50 L49.80,3.40 L53.80,3.40 L53.80,1.50Z M49.80,13.50 L65.23,13.50 L65.23,22.90 L61.20,22.90 L61.20,24.80 L59.70,25.80 L55.30,25.80 L53.80,24.80 L53.80,22.90 L49.80,22.90Z M71.73,0.50 L76.13,0.50 L77.63,1.50 L77.63,3.40 L81.67,3.40 L81.67,12.50 L66.23,12.50 L66.23,3.40 L70.23,3.40 L70.23,1.50Z M66.23,13.50 L81.67,13.50 L81.67,22.90 L77.63,22.90 L77.63,24.80 L76.13,25.80 L71.73,25.80 L70.23,24.80 L70.23,22.90 L66.23,22.90Z M88.17,0.50 L92.57,0.50 L94.07,1.50 L94.07,3.40 L98.10,3.40 L98.10,12.50 L82.67,12.50 L82.67,3.40 L86.67,3.40 L86.67,1.50Z M82.67,13.50 L98.10,13.50 L98.10,22.90 L94.07,22.90 L94.07,24.80 L92.57,25.80 L88.17,25.80 L86.67,24.80 L86.67,22.90 L82.67,22.90Z" fill="#000"/>
<rect x="4.90" y="8.1" width="6.9" height="3.8" fill="#ffa000"/>
<rect x="4.90" y="13.9" width="6.9" height="3.6" fill="#ffa000"/>
<rect x="21.33" y="8.1" width="6.9" height="3.8" fill="#ffa000"/>
<rect x="21.33" y="13.9" width="6.9" height="3.6" fill="#ffa000"/>
<line x1="16.43" y1="3.4" x2="16.43" y2="22.900000000000002" stroke="#1c3030" stroke-opacity="0.38" stroke-width="1.2"/>
<rect x="37.77" y="8.1" width="6.9" height="3.8" fill="#ffa000"/>
<rect x="37.77" y="13.9" width="6.9" height="3.6" fill="#ffa000"/>
<line x1="32.87" y1="3.4" x2="32.87" y2="22.900000000000002" stroke="#1c3030" stroke-opacity="0.38" stroke-width="1.2"/>
<rect x="54.20" y="8.1" width="6.9" height="3.8" fill="#ffa000"/>
<rect x="54.20" y="13.9" width="6.9" height="3.6" fill="#ffa000"/>
<line x1="49.30" y1="3.4" x2="49.30" y2="22.900000000000002" stroke="#1c3030" stroke-opacity="0.38" stroke-width="1.2"/>
<rect x="70.63" y="8.1" width="6.9" height="3.8" fill="#ffa000"/>
<rect x="70.63" y="13.9" width="6.9" height="3.6" fill="#ffa000"/>
<line x1="65.73" y1="3.4" x2="65.73" y2="22.900000000000002" stroke="#1c3030" stroke-opacity="0.38" stroke-width="1.2"/>
<rect x="87.07" y="8.1" width="6.9" height="3.8" fill="#ffa000"/>
<rect x="87.07" y="13.9" width="6.9" height="3.6" fill="#ffa000"/>
<line x1="82.17" y1="3.4" x2="82.17" y2="22.900000000000002" stroke="#1c3030" stroke-opacity="0.38" stroke-width="1.2"/>
</g>
<g transform="translate(557.30,284.20)">
<rect x="0" y="0" width="98.60" height="26.3" fill="#a4b6b6" fill-opacity="0.72" stroke="#000" stroke-width="1"/>
<path d="M6.00,0.50 L10.40,0.50 L11.90,1.50 L11.90,3.40 L15.93,3.40 L15.93,12.50 L0.50,12.50 L0.50,3.40 L4.50,3.40 L4.50,1.50Z M0.50,13.50 L15.93,13.50 L15.93,22.90 L11.90,22.90 L11.90,24.80 L10.40,25.80 L6.00,25.80 L4.50,24.80 L4.50,22.90 L0.50,22.90Z M22.43,0.50 L26.83,0.50 L28.33,1.50 L28.33,3.40 L32.37,3.40 L32.37,12.50 L16.93,12.50 L16.93,3.40 L20.93,3.40 L20.93,1.50Z M16.93,13.50 L32.37,13.50 L32.37,22.90 L28.33,22.90 L28.33,24.80 L26.83,25.80 L22.43,25.80 L20.93,24.80 L20.93,22.90 L16.93,22.90Z M38.87,0.50 L43.27,0.50 L44.77,1.50 L44.77,3.40 L48.80,3.40 L48.80,12.50 L33.37,12.50 L33.37,3.40 L37.37,3.40 L37.37,1.50Z M33.37,13.50 L48.80,13.50 L48.80,22.90 L44.77,22.90 L44.77,24.80 L43.27,25.80 L38.87,25.80 L37.37,24.80 L37.37,22.90 L33.37,22.90Z M55.30,0.50 L59.70,0.50 L61.20,1.50 L61.20,3.40 L65.23,3.40 L65.23,12.50 L49.80,12.50 L49.80,3.40 L53.80,3.40 L53.80,1.50Z M49.80,13.50 L65.23,13.50 L65.23,22.90 L61.20,22.90 L61.20,24.80 L59.70,25.80 L55.30,25.80 L53.80,24.80 L53.80,22.90 L49.80,22.90Z M71.73,0.50 L76.13,0.50 L77.63,1.50 L77.63,3.40 L81.67,3.40 L81.67,12.50 L66.23,12.50 L66.23,3.40 L70.23,3.40 L70.23,1.50Z M66.23,13.50 L81.67,13.50 L81.67,22.90 L77.63,22.90 L77.63,24.80 L76.13,25.80 L71.73,25.80 L70.23,24.80 L70.23,22.90 L66.23,22.90Z M88.17,0.50 L92.57,0.50 L94.07,1.50 L94.07,3.40 L98.10,3.40 L98.10,12.50 L82.67,12.50 L82.67,3.40 L86.67,3.40 L86.67,1.50Z M82.67,13.50 L98.10,13.50 L98.10,22.90 L94.07,22.90 L94.07,24.80 L92.57,25.80 L88.17,25.80 L86.67,24.80 L86.67,22.90 L82.67,22.90Z" fill="#000"/>
<rect x="4.90" y="8.1" width="6.9" height="3.8" fill="#ffa000"/>
<rect x="4.90" y="13.9" width="6.9" height="3.6" fill="#ffa000"/>
<rect x="21.33" y="8.1" width="6.9" height="3.8" fill="#ffa000"/>
<rect x="21.33" y="13.9" width="6.9" height="3.6" fill="#ffa000"/>
<line x1="16.43" y1="3.4" x2="16.43" y2="22.900000000000002" stroke="#1c3030" stroke-opacity="0.38" stroke-width="1.2"/>
<rect x="37.77" y="8.1" width="6.9" height="3.8" fill="#ffa000"/>
<rect x="37.77" y="13.9" width="6.9" height="3.6" fill="#ffa000"/>
<line x1="32.87" y1="3.4" x2="32.87" y2="22.900000000000002" stroke="#1c3030" stroke-opacity="0.38" stroke-width="1.2"/>
<rect x="54.20" y="8.1" width="6.9" height="3.8" fill="#ffa000"/>
<rect x="54.20" y="13.9" width="6.9" height="3.6" fill="#ffa000"/>
<line x1="49.30" y1="3.4" x2="49.30" y2="22.900000000000002" stroke="#1c3030" stroke-opacity="0.38" stroke-width="1.2"/>
<rect x="70.63" y="8.1" width="6.9" height="3.8" fill="#ffa000"/>
<rect x="70.63" y="13.9" width="6.9" height="3.6" fill="#ffa000"/>
<line x1="65.73" y1="3.4" x2="65.73" y2="22.900000000000002" stroke="#1c3030" stroke-opacity="0.38" stroke-width="1.2"/>
<rect x="87.07" y="8.1" width="6.9" height="3.8" fill="#ffa000"/>
<rect x="87.07" y="13.9" width="6.9" height="3.6" fill="#ffa000"/>
<line x1="82.17" y1="3.4" x2="82.17" y2="22.900000000000002" stroke="#1c3030" stroke-opacity="0.38" stroke-width="1.2"/>
</g>
<g transform="translate(662.00,284.20)">
<rect x="0" y="0" width="98.60" height="26.3" fill="#a4b6b6" fill-opacity="0.72" stroke="#000" stroke-width="1"/>
<path d="M6.00,0.50 L10.40,0.50 L11.90,1.50 L11.90,3.40 L15.93,3.40 L15.93,12.50 L0.50,12.50 L0.50,3.40 L4.50,3.40 L4.50,1.50Z M0.50,13.50 L15.93,13.50 L15.93,22.90 L11.90,22.90 L11.90,24.80 L10.40,25.80 L6.00,25.80 L4.50,24.80 L4.50,22.90 L0.50,22.90Z M22.43,0.50 L26.83,0.50 L28.33,1.50 L28.33,3.40 L32.37,3.40 L32.37,12.50 L16.93,12.50 L16.93,3.40 L20.93,3.40 L20.93,1.50Z M16.93,13.50 L32.37,13.50 L32.37,22.90 L28.33,22.90 L28.33,24.80 L26.83,25.80 L22.43,25.80 L20.93,24.80 L20.93,22.90 L16.93,22.90Z M38.87,0.50 L43.27,0.50 L44.77,1.50 L44.77,3.40 L48.80,3.40 L48.80,12.50 L33.37,12.50 L33.37,3.40 L37.37,3.40 L37.37,1.50Z M33.37,13.50 L48.80,13.50 L48.80,22.90 L44.77,22.90 L44.77,24.80 L43.27,25.80 L38.87,25.80 L37.37,24.80 L37.37,22.90 L33.37,22.90Z M55.30,0.50 L59.70,0.50 L61.20,1.50 L61.20,3.40 L65.23,3.40 L65.23,12.50 L49.80,12.50 L49.80,3.40 L53.80,3.40 L53.80,1.50Z M49.80,13.50 L65.23,13.50 L65.23,22.90 L61.20,22.90 L61.20,24.80 L59.70,25.80 L55.30,25.80 L53.80,24.80 L53.80,22.90 L49.80,22.90Z M71.73,0.50 L76.13,0.50 L77.63,1.50 L77.63,3.40 L81.67,3.40 L81.67,12.50 L66.23,12.50 L66.23,3.40 L70.23,3.40 L70.23,1.50Z M66.23,13.50 L81.67,13.50 L81.67,22.90 L77.63,22.90 L77.63,24.80 L76.13,25.80 L71.73,25.80 L70.23,24.80 L70.23,22.90 L66.23,22.90Z M88.17,0.50 L92.57,0.50 L94.07,1.50 L94.07,3.40 L98.10,3.40 L98.10,12.50 L82.67,12.50 L82.67,3.40 L86.67,3.40 L86.67,1.50Z M82.67,13.50 L98.10,13.50 L98.10,22.90 L94.07,22.90 L94.07,24.80 L92.57,25.80 L88.17,25.80 L86.67,24.80 L86.67,22.90 L82.67,22.90Z" fill="#000"/>
<rect x="4.90" y="8.1" width="6.9" height="3.8" fill="#ffa000"/>
<rect x="4.90" y="13.9" width="6.9" height="3.6" fill="#ffa000"/>
<rect x="21.33" y="8.1" width="6.9" height="3.8" fill="#ffa000"/>
<rect x="21.33" y="13.9" width="6.9" height="3.6" fill="#ffa000"/>
<line x1="16.43" y1="3.4" x2="16.43" y2="22.900000000000002" stroke="#1c3030" stroke-opacity="0.38" stroke-width="1.2"/>
<rect x="37.77" y="8.1" width="6.9" height="3.8" fill="#ffa000"/>
<rect x="37.77" y="13.9" width="6.9" height="3.6" fill="#ffa000"/>
<line x1="32.87" y1="3.4" x2="32.87" y2="22.900000000000002" stroke="#1c3030" stroke-opacity="0.38" stroke-width="1.2"/>
<rect x="54.20" y="8.1" width="6.9" height="3.8" fill="#ffa000"/>
<rect x="54.20" y="13.9" width="6.9" height="3.6" fill="#ffa000"/>
<line x1="49.30" y1="3.4" x2="49.30" y2="22.900000000000002" stroke="#1c3030" stroke-opacity="0.38" stroke-width="1.2"/>
<rect x="70.63" y="8.1" width="6.9" height="3.8" fill="#ffa000"/>
<rect x="70.63" y="13.9" width="6.9" height="3.6" fill="#ffa000"/>
<line x1="65.73" y1="3.4" x2="65.73" y2="22.900000000000002" stroke="#1c3030" stroke-opacity="0.38" stroke-width="1.2"/>
<rect x="87.07" y="8.1" width="6.9" height="3.8" fill="#ffa000"/>
<rect x="87.07" y="13.9" width="6.9" height="3.6" fill="#ffa000"/>
<line x1="82.17" y1="3.4" x2="82.17" y2="22.900000000000002" stroke="#1c3030" stroke-opacity="0.38" stroke-width="1.2"/>
</g>
<g transform="translate(776.30,284.20)">
<rect x="0" y="0" width="98.60" height="26.3" fill="#a4b6b6" fill-opacity="0.72" stroke="#000" stroke-width="1"/>
<path d="M6.00,0.50 L10.40,0.50 L11.90,1.50 L11.90,3.40 L15.93,3.40 L15.93,12.50 L0.50,12.50 L0.50,3.40 L4.50,3.40 L4.50,1.50Z M0.50,13.50 L15.93,13.50 L15.93,22.90 L11.90,22.90 L11.90,24.80 L10.40,25.80 L6.00,25.80 L4.50,24.80 L4.50,22.90 L0.50,22.90Z M22.43,0.50 L26.83,0.50 L28.33,1.50 L28.33,3.40 L32.37,3.40 L32.37,12.50 L16.93,12.50 L16.93,3.40 L20.93,3.40 L20.93,1.50Z M16.93,13.50 L32.37,13.50 L32.37,22.90 L28.33,22.90 L28.33,24.80 L26.83,25.80 L22.43,25.80 L20.93,24.80 L20.93,22.90 L16.93,22.90Z M38.87,0.50 L43.27,0.50 L44.77,1.50 L44.77,3.40 L48.80,3.40 L48.80,12.50 L33.37,12.50 L33.37,3.40 L37.37,3.40 L37.37,1.50Z M33.37,13.50 L48.80,13.50 L48.80,22.90 L44.77,22.90 L44.77,24.80 L43.27,25.80 L38.87,25.80 L37.37,24.80 L37.37,22.90 L33.37,22.90Z M55.30,0.50 L59.70,0.50 L61.20,1.50 L61.20,3.40 L65.23,3.40 L65.23,12.50 L49.80,12.50 L49.80,3.40 L53.80,3.40 L53.80,1.50Z M49.80,13.50 L65.23,13.50 L65.23,22.90 L61.20,22.90 L61.20,24.80 L59.70,25.80 L55.30,25.80 L53.80,24.80 L53.80,22.90 L49.80,22.90Z M71.73,0.50 L76.13,0.50 L77.63,1.50 L77.63,3.40 L81.67,3.40 L81.67,12.50 L66.23,12.50 L66.23,3.40 L70.23,3.40 L70.23,1.50Z M66.23,13.50 L81.67,13.50 L81.67,22.90 L77.63,22.90 L77.63,24.80 L76.13,25.80 L71.73,25.80 L70.23,24.80 L70.23,22.90 L66.23,22.90Z M88.17,0.50 L92.57,0.50 L94.07,1.50 L94.07,3.40 L98.10,3.40 L98.10,12.50 L82.67,12.50 L82.67,3.40 L86.67,3.40 L86.67,1.50Z M82.67,13.50 L98.10,13.50 L98.10,22.90 L94.07,22.90 L94.07,24.80 L92.57,25.80 L88.17,25.80 L86.67,24.80 L86.67,22.90 L82.67,22.90Z" fill="#000"/>
<rect x="4.90" y="8.1" width="6.9" height="3.8" fill="#ffa000"/>
<rect x="4.90" y="13.9" width="6.9" height="3.6" fill="#ffa000"/>
<rect x="21.33" y="8.1" width="6.9" height="3.8" fill="#ffa000"/>
<rect x="21.33" y="13.9" width="6.9" height="3.6" fill="#ffa000"/>
<line x1="16.43" y1="3.4" x2="16.43" y2="22.900000000000002" stroke="#1c3030" stroke-opacity="0.38" stroke-width="1.2"/>
<rect x="37.77" y="8.1" width="6.9" height="3.8" fill="#ffa000"/>
<rect x="37.77" y="13.9" width="6.9" height="3.6" fill="#ffa000"/>
<line x1="32.87" y1="3.4" x2="32.87" y2="22.900000000000002" stroke="#1c3030" stroke-opacity="0.38" stroke-width="1.2"/>
<rect x="54.20" y="8.1" width="6.9" height="3.8" fill="#ffa000"/>
<rect x="54.20" y="13.9" width="6.9" height="3.6" fill="#ffa000"/>
<line x1="49.30" y1="3.4" x2="49.30" y2="22.900000000000002" stroke="#1c3030" stroke-opacity="0.38" stroke-width="1.2"/>
<rect x="70.63" y="8.1" width="6.9" height="3.8" fill="#ffa000"/>
<rect x="70.63" y="13.9" width="6.9" height="3.6" fill="#ffa000"/>
<line x1="65.73" y1="3.4" x2="65.73" y2="22.900000000000002" stroke="#1c3030" stroke-opacity="0.38" stroke-width="1.2"/>
<rect x="87.07" y="8.1" width="6.9" height="3.8" fill="#ffa000"/>
<rect x="87.07" y="13.9" width="6.9" height="3.6" fill="#ffa000"/>
<line x1="82.17" y1="3.4" x2="82.17" y2="22.900000000000002" stroke="#1c3030" stroke-opacity="0.38" stroke-width="1.2"/>
</g>
<g transform="translate(894.00,296.90)">
<rect x="0" y="0" width="16.9" height="13.6" fill="#000" stroke="#000" stroke-width="1"/>
<polygon points="0.8,13.0 0.8,10.6 4.2,10.6 5.6,13.0" fill="#7f9c9c"/>
<polygon points="16.099999999999998,13.0 16.099999999999998,10.6 12.7,10.6 11.299999999999999,13.0" fill="#7f9c9c"/>
<rect x="5" y="1.4" width="6.9" height="3" fill="#ffa000"/>
</g>
<text class="sw" x="411.8" y="325.6" font-size="15px" stroke="#000" stroke-width="0.5" textLength="36.2" lengthAdjust="spacingAndGlyphs">Cisco</text>
<text class="sw" x="455" y="325.6" font-size="11.5px" stroke="#000" stroke-width="0.3" textLength="42.6" lengthAdjust="spacingAndGlyphs">2960-44</text>
<text x="503.3" y="325.6" font-size="16.5px" fill="#000" textLength="12.0" lengthAdjust="spacingAndGlyphs" font-family="'Liberation Serif', serif">Ö</text>
<text class="sw" x="516" y="325.6" font-size="15px" stroke="#000" stroke-width="0.5" textLength="71.5" lengthAdjust="spacingAndGlyphs">ffentlicher</text>
<text class="sw" x="595.5" y="325.6" font-size="15px" stroke="#000" stroke-width="0.5" textLength="48.0" lengthAdjust="spacingAndGlyphs">Switch</text>
<text class="sw" x="648.5" y="325.6" font-size="11.5px" stroke="#000" stroke-width="0.3" textLength="3.0" lengthAdjust="spacingAndGlyphs">:</text>
<text class="sw" x="658" y="325.6" font-size="15px" stroke="#000" stroke-width="0.5" textLength="11.7" lengthAdjust="spacingAndGlyphs">A</text>
<text class="sw" x="674.9" y="325.6" font-size="15px" stroke="#000" stroke-width="0.5" textLength="7.7" lengthAdjust="spacingAndGlyphs">–</text>
<text class="sw" x="688.6" y="325.6" font-size="11.5px" stroke="#000" stroke-width="0.3" textLength="11.4" lengthAdjust="spacingAndGlyphs">44</text>
<text class="sw" x="704" y="325.6" font-size="15px" stroke="#000" stroke-width="0.5" textLength="31.6" lengthAdjust="spacingAndGlyphs">Port</text>
<rect x="405.4" y="342.0" width="523" height="53.9" fill="url(#gsw)" stroke="#000" stroke-width="1"/>
<g transform="translate(442.70,348.40)">
<rect x="0" y="0" width="98.60" height="26.3" fill="#a4b6b6" fill-opacity="0.72" stroke="#000" stroke-width="1"/>
<path d="M6.00,0.50 L10.40,0.50 L11.90,1.50 L11.90,3.40 L15.93,3.40 L15.93,12.50 L0.50,12.50 L0.50,3.40 L4.50,3.40 L4.50,1.50Z M0.50,13.50 L15.93,13.50 L15.93,22.90 L11.90,22.90 L11.90,24.80 L10.40,25.80 L6.00,25.80 L4.50,24.80 L4.50,22.90 L0.50,22.90Z M22.43,0.50 L26.83,0.50 L28.33,1.50 L28.33,3.40 L32.37,3.40 L32.37,12.50 L16.93,12.50 L16.93,3.40 L20.93,3.40 L20.93,1.50Z M16.93,13.50 L32.37,13.50 L32.37,22.90 L28.33,22.90 L28.33,24.80 L26.83,25.80 L22.43,25.80 L20.93,24.80 L20.93,22.90 L16.93,22.90Z M38.87,0.50 L43.27,0.50 L44.77,1.50 L44.77,3.40 L48.80,3.40 L48.80,12.50 L33.37,12.50 L33.37,3.40 L37.37,3.40 L37.37,1.50Z M33.37,13.50 L48.80,13.50 L48.80,22.90 L44.77,22.90 L44.77,24.80 L43.27,25.80 L38.87,25.80 L37.37,24.80 L37.37,22.90 L33.37,22.90Z M55.30,0.50 L59.70,0.50 L61.20,1.50 L61.20,3.40 L65.23,3.40 L65.23,12.50 L49.80,12.50 L49.80,3.40 L53.80,3.40 L53.80,1.50Z M49.80,13.50 L65.23,13.50 L65.23,22.90 L61.20,22.90 L61.20,24.80 L59.70,25.80 L55.30,25.80 L53.80,24.80 L53.80,22.90 L49.80,22.90Z M71.73,0.50 L76.13,0.50 L77.63,1.50 L77.63,3.40 L81.67,3.40 L81.67,12.50 L66.23,12.50 L66.23,3.40 L70.23,3.40 L70.23,1.50Z M66.23,13.50 L81.67,13.50 L81.67,22.90 L77.63,22.90 L77.63,24.80 L76.13,25.80 L71.73,25.80 L70.23,24.80 L70.23,22.90 L66.23,22.90Z M88.17,0.50 L92.57,0.50 L94.07,1.50 L94.07,3.40 L98.10,3.40 L98.10,12.50 L82.67,12.50 L82.67,3.40 L86.67,3.40 L86.67,1.50Z M82.67,13.50 L98.10,13.50 L98.10,22.90 L94.07,22.90 L94.07,24.80 L92.57,25.80 L88.17,25.80 L86.67,24.80 L86.67,22.90 L82.67,22.90Z" fill="#000"/>
<rect x="4.90" y="8.1" width="6.9" height="3.8" fill="#ffa000"/>
<rect x="4.90" y="13.9" width="6.9" height="3.6" fill="#ffa000"/>
<rect x="21.33" y="8.1" width="6.9" height="3.8" fill="#ffa000"/>
<rect x="21.33" y="13.9" width="6.9" height="3.6" fill="#ffa000"/>
<line x1="16.43" y1="3.4" x2="16.43" y2="22.900000000000002" stroke="#1c3030" stroke-opacity="0.38" stroke-width="1.2"/>
<rect x="37.77" y="8.1" width="6.9" height="3.8" fill="#ffa000"/>
<rect x="37.77" y="13.9" width="6.9" height="3.6" fill="#ffa000"/>
<line x1="32.87" y1="3.4" x2="32.87" y2="22.900000000000002" stroke="#1c3030" stroke-opacity="0.38" stroke-width="1.2"/>
<rect x="54.20" y="8.1" width="6.9" height="3.8" fill="#ffa000"/>
<rect x="54.20" y="13.9" width="6.9" height="3.6" fill="#ffa000"/>
<line x1="49.30" y1="3.4" x2="49.30" y2="22.900000000000002" stroke="#1c3030" stroke-opacity="0.38" stroke-width="1.2"/>
<rect x="70.63" y="8.1" width="6.9" height="3.8" fill="#ffa000"/>
<rect x="70.63" y="13.9" width="6.9" height="3.6" fill="#ffa000"/>
<line x1="65.73" y1="3.4" x2="65.73" y2="22.900000000000002" stroke="#1c3030" stroke-opacity="0.38" stroke-width="1.2"/>
<rect x="87.07" y="8.1" width="6.9" height="3.8" fill="#ffa000"/>
<rect x="87.07" y="13.9" width="6.9" height="3.6" fill="#ffa000"/>
<line x1="82.17" y1="3.4" x2="82.17" y2="22.900000000000002" stroke="#1c3030" stroke-opacity="0.38" stroke-width="1.2"/>
</g>
<g transform="translate(556.80,348.40)">
<rect x="0" y="0" width="98.60" height="26.3" fill="#a4b6b6" fill-opacity="0.72" stroke="#000" stroke-width="1"/>
<path d="M6.00,0.50 L10.40,0.50 L11.90,1.50 L11.90,3.40 L15.93,3.40 L15.93,12.50 L0.50,12.50 L0.50,3.40 L4.50,3.40 L4.50,1.50Z M0.50,13.50 L15.93,13.50 L15.93,22.90 L11.90,22.90 L11.90,24.80 L10.40,25.80 L6.00,25.80 L4.50,24.80 L4.50,22.90 L0.50,22.90Z M22.43,0.50 L26.83,0.50 L28.33,1.50 L28.33,3.40 L32.37,3.40 L32.37,12.50 L16.93,12.50 L16.93,3.40 L20.93,3.40 L20.93,1.50Z M16.93,13.50 L32.37,13.50 L32.37,22.90 L28.33,22.90 L28.33,24.80 L26.83,25.80 L22.43,25.80 L20.93,24.80 L20.93,22.90 L16.93,22.90Z M38.87,0.50 L43.27,0.50 L44.77,1.50 L44.77,3.40 L48.80,3.40 L48.80,12.50 L33.37,12.50 L33.37,3.40 L37.37,3.40 L37.37,1.50Z M33.37,13.50 L48.80,13.50 L48.80,22.90 L44.77,22.90 L44.77,24.80 L43.27,25.80 L38.87,25.80 L37.37,24.80 L37.37,22.90 L33.37,22.90Z M55.30,0.50 L59.70,0.50 L61.20,1.50 L61.20,3.40 L65.23,3.40 L65.23,12.50 L49.80,12.50 L49.80,3.40 L53.80,3.40 L53.80,1.50Z M49.80,13.50 L65.23,13.50 L65.23,22.90 L61.20,22.90 L61.20,24.80 L59.70,25.80 L55.30,25.80 L53.80,24.80 L53.80,22.90 L49.80,22.90Z M71.73,0.50 L76.13,0.50 L77.63,1.50 L77.63,3.40 L81.67,3.40 L81.67,12.50 L66.23,12.50 L66.23,3.40 L70.23,3.40 L70.23,1.50Z M66.23,13.50 L81.67,13.50 L81.67,22.90 L77.63,22.90 L77.63,24.80 L76.13,25.80 L71.73,25.80 L70.23,24.80 L70.23,22.90 L66.23,22.90Z M88.17,0.50 L92.57,0.50 L94.07,1.50 L94.07,3.40 L98.10,3.40 L98.10,12.50 L82.67,12.50 L82.67,3.40 L86.67,3.40 L86.67,1.50Z M82.67,13.50 L98.10,13.50 L98.10,22.90 L94.07,22.90 L94.07,24.80 L92.57,25.80 L88.17,25.80 L86.67,24.80 L86.67,22.90 L82.67,22.90Z" fill="#000"/>
<rect x="4.90" y="8.1" width="6.9" height="3.8" fill="#ffa000"/>
<rect x="4.90" y="13.9" width="6.9" height="3.6" fill="#ffa000"/>
<rect x="21.33" y="8.1" width="6.9" height="3.8" fill="#ffa000"/>
<rect x="21.33" y="13.9" width="6.9" height="3.6" fill="#ffa000"/>
<line x1="16.43" y1="3.4" x2="16.43" y2="22.900000000000002" stroke="#1c3030" stroke-opacity="0.38" stroke-width="1.2"/>
<rect x="37.77" y="8.1" width="6.9" height="3.8" fill="#ffa000"/>
<rect x="37.77" y="13.9" width="6.9" height="3.6" fill="#ffa000"/>
<line x1="32.87" y1="3.4" x2="32.87" y2="22.900000000000002" stroke="#1c3030" stroke-opacity="0.38" stroke-width="1.2"/>
<rect x="54.20" y="8.1" width="6.9" height="3.8" fill="#ffa000"/>
<rect x="54.20" y="13.9" width="6.9" height="3.6" fill="#ffa000"/>
<line x1="49.30" y1="3.4" x2="49.30" y2="22.900000000000002" stroke="#1c3030" stroke-opacity="0.38" stroke-width="1.2"/>
<rect x="70.63" y="8.1" width="6.9" height="3.8" fill="#ffa000"/>
<rect x="70.63" y="13.9" width="6.9" height="3.6" fill="#ffa000"/>
<line x1="65.73" y1="3.4" x2="65.73" y2="22.900000000000002" stroke="#1c3030" stroke-opacity="0.38" stroke-width="1.2"/>
<rect x="87.07" y="8.1" width="6.9" height="3.8" fill="#ffa000"/>
<rect x="87.07" y="13.9" width="6.9" height="3.6" fill="#ffa000"/>
<line x1="82.17" y1="3.4" x2="82.17" y2="22.900000000000002" stroke="#1c3030" stroke-opacity="0.38" stroke-width="1.2"/>
</g>
<g transform="translate(661.50,348.40)">
<rect x="0" y="0" width="98.60" height="26.3" fill="#a4b6b6" fill-opacity="0.72" stroke="#000" stroke-width="1"/>
<path d="M6.00,0.50 L10.40,0.50 L11.90,1.50 L11.90,3.40 L15.93,3.40 L15.93,12.50 L0.50,12.50 L0.50,3.40 L4.50,3.40 L4.50,1.50Z M0.50,13.50 L15.93,13.50 L15.93,22.90 L11.90,22.90 L11.90,24.80 L10.40,25.80 L6.00,25.80 L4.50,24.80 L4.50,22.90 L0.50,22.90Z M22.43,0.50 L26.83,0.50 L28.33,1.50 L28.33,3.40 L32.37,3.40 L32.37,12.50 L16.93,12.50 L16.93,3.40 L20.93,3.40 L20.93,1.50Z M16.93,13.50 L32.37,13.50 L32.37,22.90 L28.33,22.90 L28.33,24.80 L26.83,25.80 L22.43,25.80 L20.93,24.80 L20.93,22.90 L16.93,22.90Z M38.87,0.50 L43.27,0.50 L44.77,1.50 L44.77,3.40 L48.80,3.40 L48.80,12.50 L33.37,12.50 L33.37,3.40 L37.37,3.40 L37.37,1.50Z M33.37,13.50 L48.80,13.50 L48.80,22.90 L44.77,22.90 L44.77,24.80 L43.27,25.80 L38.87,25.80 L37.37,24.80 L37.37,22.90 L33.37,22.90Z M55.30,0.50 L59.70,0.50 L61.20,1.50 L61.20,3.40 L65.23,3.40 L65.23,12.50 L49.80,12.50 L49.80,3.40 L53.80,3.40 L53.80,1.50Z M49.80,13.50 L65.23,13.50 L65.23,22.90 L61.20,22.90 L61.20,24.80 L59.70,25.80 L55.30,25.80 L53.80,24.80 L53.80,22.90 L49.80,22.90Z M71.73,0.50 L76.13,0.50 L77.63,1.50 L77.63,3.40 L81.67,3.40 L81.67,12.50 L66.23,12.50 L66.23,3.40 L70.23,3.40 L70.23,1.50Z M66.23,13.50 L81.67,13.50 L81.67,22.90 L77.63,22.90 L77.63,24.80 L76.13,25.80 L71.73,25.80 L70.23,24.80 L70.23,22.90 L66.23,22.90Z M88.17,0.50 L92.57,0.50 L94.07,1.50 L94.07,3.40 L98.10,3.40 L98.10,12.50 L82.67,12.50 L82.67,3.40 L86.67,3.40 L86.67,1.50Z M82.67,13.50 L98.10,13.50 L98.10,22.90 L94.07,22.90 L94.07,24.80 L92.57,25.80 L88.17,25.80 L86.67,24.80 L86.67,22.90 L82.67,22.90Z" fill="#000"/>
<rect x="4.90" y="8.1" width="6.9" height="3.8" fill="#ffa000"/>
<rect x="4.90" y="13.9" width="6.9" height="3.6" fill="#ffa000"/>
<rect x="21.33" y="8.1" width="6.9" height="3.8" fill="#ffa000"/>
<rect x="21.33" y="13.9" width="6.9" height="3.6" fill="#ffa000"/>
<line x1="16.43" y1="3.4" x2="16.43" y2="22.900000000000002" stroke="#1c3030" stroke-opacity="0.38" stroke-width="1.2"/>
<rect x="37.77" y="8.1" width="6.9" height="3.8" fill="#ffa000"/>
<rect x="37.77" y="13.9" width="6.9" height="3.6" fill="#ffa000"/>
<line x1="32.87" y1="3.4" x2="32.87" y2="22.900000000000002" stroke="#1c3030" stroke-opacity="0.38" stroke-width="1.2"/>
<rect x="54.20" y="8.1" width="6.9" height="3.8" fill="#ffa000"/>
<rect x="54.20" y="13.9" width="6.9" height="3.6" fill="#ffa000"/>
<line x1="49.30" y1="3.4" x2="49.30" y2="22.900000000000002" stroke="#1c3030" stroke-opacity="0.38" stroke-width="1.2"/>
<rect x="70.63" y="8.1" width="6.9" height="3.8" fill="#ffa000"/>
<rect x="70.63" y="13.9" width="6.9" height="3.6" fill="#ffa000"/>
<line x1="65.73" y1="3.4" x2="65.73" y2="22.900000000000002" stroke="#1c3030" stroke-opacity="0.38" stroke-width="1.2"/>
<rect x="87.07" y="8.1" width="6.9" height="3.8" fill="#ffa000"/>
<rect x="87.07" y="13.9" width="6.9" height="3.6" fill="#ffa000"/>
<line x1="82.17" y1="3.4" x2="82.17" y2="22.900000000000002" stroke="#1c3030" stroke-opacity="0.38" stroke-width="1.2"/>
</g>
<g transform="translate(775.80,348.40)">
<rect x="0" y="0" width="98.60" height="26.3" fill="#a4b6b6" fill-opacity="0.72" stroke="#000" stroke-width="1"/>
<path d="M6.00,0.50 L10.40,0.50 L11.90,1.50 L11.90,3.40 L15.93,3.40 L15.93,12.50 L0.50,12.50 L0.50,3.40 L4.50,3.40 L4.50,1.50Z M0.50,13.50 L15.93,13.50 L15.93,22.90 L11.90,22.90 L11.90,24.80 L10.40,25.80 L6.00,25.80 L4.50,24.80 L4.50,22.90 L0.50,22.90Z M22.43,0.50 L26.83,0.50 L28.33,1.50 L28.33,3.40 L32.37,3.40 L32.37,12.50 L16.93,12.50 L16.93,3.40 L20.93,3.40 L20.93,1.50Z M16.93,13.50 L32.37,13.50 L32.37,22.90 L28.33,22.90 L28.33,24.80 L26.83,25.80 L22.43,25.80 L20.93,24.80 L20.93,22.90 L16.93,22.90Z M38.87,0.50 L43.27,0.50 L44.77,1.50 L44.77,3.40 L48.80,3.40 L48.80,12.50 L33.37,12.50 L33.37,3.40 L37.37,3.40 L37.37,1.50Z M33.37,13.50 L48.80,13.50 L48.80,22.90 L44.77,22.90 L44.77,24.80 L43.27,25.80 L38.87,25.80 L37.37,24.80 L37.37,22.90 L33.37,22.90Z M55.30,0.50 L59.70,0.50 L61.20,1.50 L61.20,3.40 L65.23,3.40 L65.23,12.50 L49.80,12.50 L49.80,3.40 L53.80,3.40 L53.80,1.50Z M49.80,13.50 L65.23,13.50 L65.23,22.90 L61.20,22.90 L61.20,24.80 L59.70,25.80 L55.30,25.80 L53.80,24.80 L53.80,22.90 L49.80,22.90Z M71.73,0.50 L76.13,0.50 L77.63,1.50 L77.63,3.40 L81.67,3.40 L81.67,12.50 L66.23,12.50 L66.23,3.40 L70.23,3.40 L70.23,1.50Z M66.23,13.50 L81.67,13.50 L81.67,22.90 L77.63,22.90 L77.63,24.80 L76.13,25.80 L71.73,25.80 L70.23,24.80 L70.23,22.90 L66.23,22.90Z M88.17,0.50 L92.57,0.50 L94.07,1.50 L94.07,3.40 L98.10,3.40 L98.10,12.50 L82.67,12.50 L82.67,3.40 L86.67,3.40 L86.67,1.50Z M82.67,13.50 L98.10,13.50 L98.10,22.90 L94.07,22.90 L94.07,24.80 L92.57,25.80 L88.17,25.80 L86.67,24.80 L86.67,22.90 L82.67,22.90Z" fill="#000"/>
<rect x="4.90" y="8.1" width="6.9" height="3.8" fill="#ffa000"/>
<rect x="4.90" y="13.9" width="6.9" height="3.6" fill="#ffa000"/>
<rect x="21.33" y="8.1" width="6.9" height="3.8" fill="#ffa000"/>
<rect x="21.33" y="13.9" width="6.9" height="3.6" fill="#ffa000"/>
<line x1="16.43" y1="3.4" x2="16.43" y2="22.900000000000002" stroke="#1c3030" stroke-opacity="0.38" stroke-width="1.2"/>
<rect x="37.77" y="8.1" width="6.9" height="3.8" fill="#ffa000"/>
<rect x="37.77" y="13.9" width="6.9" height="3.6" fill="#ffa000"/>
<line x1="32.87" y1="3.4" x2="32.87" y2="22.900000000000002" stroke="#1c3030" stroke-opacity="0.38" stroke-width="1.2"/>
<rect x="54.20" y="8.1" width="6.9" height="3.8" fill="#ffa000"/>
<rect x="54.20" y="13.9" width="6.9" height="3.6" fill="#ffa000"/>
<line x1="49.30" y1="3.4" x2="49.30" y2="22.900000000000002" stroke="#1c3030" stroke-opacity="0.38" stroke-width="1.2"/>
<rect x="70.63" y="8.1" width="6.9" height="3.8" fill="#ffa000"/>
<rect x="70.63" y="13.9" width="6.9" height="3.6" fill="#ffa000"/>
<line x1="65.73" y1="3.4" x2="65.73" y2="22.900000000000002" stroke="#1c3030" stroke-opacity="0.38" stroke-width="1.2"/>
<rect x="87.07" y="8.1" width="6.9" height="3.8" fill="#ffa000"/>
<rect x="87.07" y="13.9" width="6.9" height="3.6" fill="#ffa000"/>
<line x1="82.17" y1="3.4" x2="82.17" y2="22.900000000000002" stroke="#1c3030" stroke-opacity="0.38" stroke-width="1.2"/>
</g>
<g transform="translate(893.50,361.10)">
<rect x="0" y="0" width="16.9" height="13.6" fill="#000" stroke="#000" stroke-width="1"/>
<polygon points="0.8,13.0 0.8,10.6 4.2,10.6 5.6,13.0" fill="#7f9c9c"/>
<polygon points="16.099999999999998,13.0 16.099999999999998,10.6 12.7,10.6 11.299999999999999,13.0" fill="#7f9c9c"/>
<rect x="5" y="1.4" width="6.9" height="3" fill="#ffa000"/>
</g>
<text class="sw" x="411.8" y="389.8" font-size="15px" stroke="#000" stroke-width="0.5" textLength="36.2" lengthAdjust="spacingAndGlyphs">Cisco</text>
<text class="sw" x="455" y="389.8" font-size="11.5px" stroke="#000" stroke-width="0.3" textLength="42.6" lengthAdjust="spacingAndGlyphs">2960-44</text>
<text x="503.3" y="389.8" font-size="16.5px" fill="#000" textLength="12.0" lengthAdjust="spacingAndGlyphs" font-family="'Liberation Serif', serif">Ö</text>
<text class="sw" x="516" y="389.8" font-size="15px" stroke="#000" stroke-width="0.5" textLength="71.5" lengthAdjust="spacingAndGlyphs">ffentlicher</text>
<text class="sw" x="595.5" y="389.8" font-size="15px" stroke="#000" stroke-width="0.5" textLength="48.0" lengthAdjust="spacingAndGlyphs">Switch</text>
<text class="sw" x="648.5" y="389.8" font-size="11.5px" stroke="#000" stroke-width="0.3" textLength="3.0" lengthAdjust="spacingAndGlyphs">:</text>
<text class="sw" x="658" y="389.8" font-size="15px" stroke="#000" stroke-width="0.5" textLength="11.7" lengthAdjust="spacingAndGlyphs">B</text>
<text class="sw" x="674.9" y="389.8" font-size="15px" stroke="#000" stroke-width="0.5" textLength="7.7" lengthAdjust="spacingAndGlyphs">–</text>
<text class="sw" x="688.6" y="389.8" font-size="11.5px" stroke="#000" stroke-width="0.3" textLength="11.4" lengthAdjust="spacingAndGlyphs">44</text>
<text class="sw" x="704" y="389.8" font-size="15px" stroke="#000" stroke-width="0.5" textLength="31.6" lengthAdjust="spacingAndGlyphs">Port</text>
<rect x="405.4" y="412.6" width="523" height="52.4" fill="url(#gip)" stroke="#000" stroke-width="1"/>
<g transform="translate(452.30,417.30)">
<rect x="0" y="0" width="98.60" height="26.2" fill="#a4b6b6" fill-opacity="0.72" stroke="#000" stroke-width="1"/>
<path d="M6.00,0.50 L10.40,0.50 L11.90,1.50 L11.90,3.40 L15.93,3.40 L15.93,12.50 L0.50,12.50 L0.50,3.40 L4.50,3.40 L4.50,1.50Z M0.50,13.50 L15.93,13.50 L15.93,22.80 L11.90,22.80 L11.90,24.70 L10.40,25.70 L6.00,25.70 L4.50,24.70 L4.50,22.80 L0.50,22.80Z M22.43,0.50 L26.83,0.50 L28.33,1.50 L28.33,3.40 L32.37,3.40 L32.37,12.50 L16.93,12.50 L16.93,3.40 L20.93,3.40 L20.93,1.50Z M16.93,13.50 L32.37,13.50 L32.37,22.80 L28.33,22.80 L28.33,24.70 L26.83,25.70 L22.43,25.70 L20.93,24.70 L20.93,22.80 L16.93,22.80Z M38.87,0.50 L43.27,0.50 L44.77,1.50 L44.77,3.40 L48.80,3.40 L48.80,12.50 L33.37,12.50 L33.37,3.40 L37.37,3.40 L37.37,1.50Z M33.37,13.50 L48.80,13.50 L48.80,22.80 L44.77,22.80 L44.77,24.70 L43.27,25.70 L38.87,25.70 L37.37,24.70 L37.37,22.80 L33.37,22.80Z M55.30,0.50 L59.70,0.50 L61.20,1.50 L61.20,3.40 L65.23,3.40 L65.23,12.50 L49.80,12.50 L49.80,3.40 L53.80,3.40 L53.80,1.50Z M49.80,13.50 L65.23,13.50 L65.23,22.80 L61.20,22.80 L61.20,24.70 L59.70,25.70 L55.30,25.70 L53.80,24.70 L53.80,22.80 L49.80,22.80Z M71.73,0.50 L76.13,0.50 L77.63,1.50 L77.63,3.40 L81.67,3.40 L81.67,12.50 L66.23,12.50 L66.23,3.40 L70.23,3.40 L70.23,1.50Z M66.23,13.50 L81.67,13.50 L81.67,22.80 L77.63,22.80 L77.63,24.70 L76.13,25.70 L71.73,25.70 L70.23,24.70 L70.23,22.80 L66.23,22.80Z M88.17,0.50 L92.57,0.50 L94.07,1.50 L94.07,3.40 L98.10,3.40 L98.10,12.50 L82.67,12.50 L82.67,3.40 L86.67,3.40 L86.67,1.50Z M82.67,13.50 L98.10,13.50 L98.10,22.80 L94.07,22.80 L94.07,24.70 L92.57,25.70 L88.17,25.70 L86.67,24.70 L86.67,22.80 L82.67,22.80Z" fill="#000"/>
<rect x="4.90" y="8.1" width="6.9" height="3.8" fill="#ffa000"/>
<rect x="4.90" y="13.9" width="6.9" height="3.6" fill="#ffa000"/>
<rect x="21.33" y="8.1" width="6.9" height="3.8" fill="#ffa000"/>
<rect x="21.33" y="13.9" width="6.9" height="3.6" fill="#ffa000"/>
<line x1="16.43" y1="3.4" x2="16.43" y2="22.8" stroke="#1c3030" stroke-opacity="0.38" stroke-width="1.2"/>
<rect x="37.77" y="8.1" width="6.9" height="3.8" fill="#ffa000"/>
<rect x="37.77" y="13.9" width="6.9" height="3.6" fill="#ffa000"/>
<line x1="32.87" y1="3.4" x2="32.87" y2="22.8" stroke="#1c3030" stroke-opacity="0.38" stroke-width="1.2"/>
<rect x="54.20" y="8.1" width="6.9" height="3.8" fill="#ffa000"/>
<rect x="54.20" y="13.9" width="6.9" height="3.6" fill="#ffa000"/>
<line x1="49.30" y1="3.4" x2="49.30" y2="22.8" stroke="#1c3030" stroke-opacity="0.38" stroke-width="1.2"/>
<rect x="70.63" y="8.1" width="6.9" height="3.8" fill="#ffa000"/>
<rect x="70.63" y="13.9" width="6.9" height="3.6" fill="#ffa000"/>
<line x1="65.73" y1="3.4" x2="65.73" y2="22.8" stroke="#1c3030" stroke-opacity="0.38" stroke-width="1.2"/>
<rect x="87.07" y="8.1" width="6.9" height="3.8" fill="#ffa000"/>
<rect x="87.07" y="13.9" width="6.9" height="3.6" fill="#ffa000"/>
<line x1="82.17" y1="3.4" x2="82.17" y2="22.8" stroke="#1c3030" stroke-opacity="0.38" stroke-width="1.2"/>
</g>
<g transform="translate(566.30,417.30)">
<rect x="0" y="0" width="98.60" height="26.2" fill="#a4b6b6" fill-opacity="0.72" stroke="#000" stroke-width="1"/>
<path d="M6.00,0.50 L10.40,0.50 L11.90,1.50 L11.90,3.40 L15.93,3.40 L15.93,12.50 L0.50,12.50 L0.50,3.40 L4.50,3.40 L4.50,1.50Z M0.50,13.50 L15.93,13.50 L15.93,22.80 L11.90,22.80 L11.90,24.70 L10.40,25.70 L6.00,25.70 L4.50,24.70 L4.50,22.80 L0.50,22.80Z M22.43,0.50 L26.83,0.50 L28.33,1.50 L28.33,3.40 L32.37,3.40 L32.37,12.50 L16.93,12.50 L16.93,3.40 L20.93,3.40 L20.93,1.50Z M16.93,13.50 L32.37,13.50 L32.37,22.80 L28.33,22.80 L28.33,24.70 L26.83,25.70 L22.43,25.70 L20.93,24.70 L20.93,22.80 L16.93,22.80Z M38.87,0.50 L43.27,0.50 L44.77,1.50 L44.77,3.40 L48.80,3.40 L48.80,12.50 L33.37,12.50 L33.37,3.40 L37.37,3.40 L37.37,1.50Z M33.37,13.50 L48.80,13.50 L48.80,22.80 L44.77,22.80 L44.77,24.70 L43.27,25.70 L38.87,25.70 L37.37,24.70 L37.37,22.80 L33.37,22.80Z M55.30,0.50 L59.70,0.50 L61.20,1.50 L61.20,3.40 L65.23,3.40 L65.23,12.50 L49.80,12.50 L49.80,3.40 L53.80,3.40 L53.80,1.50Z M49.80,13.50 L65.23,13.50 L65.23,22.80 L61.20,22.80 L61.20,24.70 L59.70,25.70 L55.30,25.70 L53.80,24.70 L53.80,22.80 L49.80,22.80Z M71.73,0.50 L76.13,0.50 L77.63,1.50 L77.63,3.40 L81.67,3.40 L81.67,12.50 L66.23,12.50 L66.23,3.40 L70.23,3.40 L70.23,1.50Z M66.23,13.50 L81.67,13.50 L81.67,22.80 L77.63,22.80 L77.63,24.70 L76.13,25.70 L71.73,25.70 L70.23,24.70 L70.23,22.80 L66.23,22.80Z M88.17,0.50 L92.57,0.50 L94.07,1.50 L94.07,3.40 L98.10,3.40 L98.10,12.50 L82.67,12.50 L82.67,3.40 L86.67,3.40 L86.67,1.50Z M82.67,13.50 L98.10,13.50 L98.10,22.80 L94.07,22.80 L94.07,24.70 L92.57,25.70 L88.17,25.70 L86.67,24.70 L86.67,22.80 L82.67,22.80Z" fill="#000"/>
<rect x="4.90" y="8.1" width="6.9" height="3.8" fill="#ffa000"/>
<rect x="4.90" y="13.9" width="6.9" height="3.6" fill="#ffa000"/>
<rect x="21.33" y="8.1" width="6.9" height="3.8" fill="#ffa000"/>
<rect x="21.33" y="13.9" width="6.9" height="3.6" fill="#ffa000"/>
<line x1="16.43" y1="3.4" x2="16.43" y2="22.8" stroke="#1c3030" stroke-opacity="0.38" stroke-width="1.2"/>
<rect x="37.77" y="8.1" width="6.9" height="3.8" fill="#ffa000"/>
<rect x="37.77" y="13.9" width="6.9" height="3.6" fill="#ffa000"/>
<line x1="32.87" y1="3.4" x2="32.87" y2="22.8" stroke="#1c3030" stroke-opacity="0.38" stroke-width="1.2"/>
<rect x="54.20" y="8.1" width="6.9" height="3.8" fill="#ffa000"/>
<rect x="54.20" y="13.9" width="6.9" height="3.6" fill="#ffa000"/>
<line x1="49.30" y1="3.4" x2="49.30" y2="22.8" stroke="#1c3030" stroke-opacity="0.38" stroke-width="1.2"/>
<rect x="70.63" y="8.1" width="6.9" height="3.8" fill="#ffa000"/>
<rect x="70.63" y="13.9" width="6.9" height="3.6" fill="#ffa000"/>
<line x1="65.73" y1="3.4" x2="65.73" y2="22.8" stroke="#1c3030" stroke-opacity="0.38" stroke-width="1.2"/>
<rect x="87.07" y="8.1" width="6.9" height="3.8" fill="#ffa000"/>
<rect x="87.07" y="13.9" width="6.9" height="3.6" fill="#ffa000"/>
<line x1="82.17" y1="3.4" x2="82.17" y2="22.8" stroke="#1c3030" stroke-opacity="0.38" stroke-width="1.2"/>
</g>
<g transform="translate(683.80,429.60)">
<rect x="0" y="0" width="17.2" height="13.9" fill="#000" stroke="#000" stroke-width="1"/>
<polygon points="0.8,13.3 0.8,10.9 4.2,10.9 5.6,13.3" fill="#7f9c9c"/>
<polygon points="16.4,13.3 16.4,10.9 13.0,10.9 11.6,13.3" fill="#7f9c9c"/>
<rect x="5" y="1.4" width="6.9" height="3" fill="#ffa000"/>
</g>
<text class="sw" x="709.7" y="460.3" font-size="11.5px" stroke="#000" stroke-width="0.3" textLength="36.8" lengthAdjust="spacingAndGlyphs">10/100</text>
<text class="sw" x="747.3" y="460.3" font-size="15px" stroke="#000" stroke-width="0.5" textLength="24.1" lengthAdjust="spacingAndGlyphs">MB</text>
<text class="sw" x="773.2" y="460.3" font-size="11.5px" stroke="#000" stroke-width="0.3" textLength="10.4" lengthAdjust="spacingAndGlyphs">/s</text>
<text class="sw" x="789.1" y="460.3" font-size="15px" stroke="#000" stroke-width="0.5" textLength="87.0" lengthAdjust="spacingAndGlyphs">IPMI-Switch</text>
<line x1="350.5" y1="652" x2="394" y2="652" stroke="#444" stroke-width="1"/>
<rect x="43.5" y="632.5" width="307.0" height="39.0" fill="#fff" stroke="#333" stroke-width="1"/>
<text class="lbl" x="343.8" y="658.8">BFC-Verteilungsserver</text>
<line x1="348.5" y1="710.4" x2="394" y2="710.4" stroke="#444" stroke-width="1"/>
<rect x="41.5" y="690.5" width="307.0" height="39.5" fill="#fff" stroke="#333" stroke-width="1"/>
<text class="lbl" x="340.8" y="716.8">Grid-Knoten 1</text>
<line x1="348.5" y1="769.2" x2="394" y2="769.2" stroke="#444" stroke-width="1"/>
<rect x="42.5" y="749.5" width="306.0" height="39.8" fill="#fff" stroke="#333" stroke-width="1"/>
<text class="lbl" x="341.2" y="775.5">Grid-Knoten 2</text>
<line x1="347.5" y1="824.5" x2="394" y2="824.5" stroke="#444" stroke-width="1"/>
<rect x="40.5" y="805.5" width="307.0" height="39.0" fill="#fff" stroke="#333" stroke-width="1"/>
<text class="lbl" x="340" y="831.2">Grid-Knoten 3</text>
<line x1="346.5" y1="889.5" x2="394" y2="889.5" stroke="#444" stroke-width="1"/>
<rect x="40.5" y="869.5" width="306.0" height="39.0" fill="#fff" stroke="#333" stroke-width="1"/>
<text class="lbl" x="339.5" y="895">Grid-Knoten 4</text>
<rect x="394" y="629.4" width="540.0" height="45.7" fill="url(#gsv)" stroke="#222" stroke-width="1"/>
<line x1="394" y1="674.3" x2="934" y2="674.3" stroke="#555" stroke-width="1.6"/>
<rect x="394" y="629.4" width="26.3" height="45.7" fill="url(#gear)" stroke="#222" stroke-width="1"/>
<rect x="907.5" y="629.4" width="26.5" height="45.7" fill="url(#gear2)" stroke="#222" stroke-width="1"/>
<polygon points="411.57,639.75 407.15,642.30 402.73,639.75 402.73,634.65 407.15,632.10 411.57,634.65" fill="#d6d6d6" stroke="#222" stroke-width="1"/>
<polygon points="411.57,672.45 407.15,675.00 402.73,672.45 402.73,667.35 407.15,664.80 411.57,667.35" fill="#d6d6d6" stroke="#222" stroke-width="1"/>
<polygon points="925.47,638.45 921.05,641.00 916.63,638.45 916.63,633.35 921.05,630.80 925.47,633.35" fill="#d6d6d6" stroke="#222" stroke-width="1"/>
<polygon points="925.47,671.15 921.05,673.70 916.63,671.15 916.63,666.05 921.05,663.50 925.47,666.05" fill="#d6d6d6" stroke="#222" stroke-width="1"/>
<rect x="432.5" y="638.75" width="57.00" height="27.00" rx="4.5" fill="#fff" stroke="#ff0000" stroke-width="1.3"/>
<text class="eth" x="461.00" y="657.0">eth0</text>
<line x1="445.40" y1="659.6" x2="476.60" y2="659.6" stroke="#222" stroke-width="1"/>
<rect x="491.5" y="638.75" width="50.50" height="27.00" rx="4.5" fill="#fff" stroke="#800080" stroke-width="1.3"/>
<text class="eth" x="516.75" y="657.0">eth1</text>
<line x1="501.15" y1="659.6" x2="532.35" y2="659.6" stroke="#222" stroke-width="1"/>
<rect x="832.4" y="646.9" width="53.50" height="26.50" rx="4.5" fill="#fff" stroke="#808000" stroke-width="1.2"/>
<text class="eth" x="859.15" y="664.3">IPMI</text>
<line x1="842.65" y1="667.0" x2="875.65" y2="667.0" stroke="#222" stroke-width="1"/>
<rect x="394" y="691.1" width="539.7" height="45.9" fill="url(#gsv)" stroke="#222" stroke-width="1"/>
<line x1="394" y1="736.2" x2="933.7" y2="736.2" stroke="#555" stroke-width="1.6"/>
<rect x="394" y="691.1" width="26.3" height="45.9" fill="url(#gear)" stroke="#222" stroke-width="1"/>
<rect x="907.5" y="691.1" width="26.2" height="45.9" fill="url(#gear2)" stroke="#222" stroke-width="1"/>
<polygon points="411.57,700.15 407.15,702.70 402.73,700.15 402.73,695.05 407.15,692.50 411.57,695.05" fill="#d6d6d6" stroke="#222" stroke-width="1"/>
<polygon points="411.57,733.05 407.15,735.60 402.73,733.05 402.73,727.95 407.15,725.40 411.57,727.95" fill="#d6d6d6" stroke="#222" stroke-width="1"/>
<polygon points="925.32,700.15 920.90,702.70 916.48,700.15 916.48,695.05 920.90,692.50 925.32,695.05" fill="#d6d6d6" stroke="#222" stroke-width="1"/>
<polygon points="925.32,733.05 920.90,735.60 916.48,733.05 916.48,727.95 920.90,725.40 925.32,727.95" fill="#d6d6d6" stroke="#222" stroke-width="1"/>
<rect x="431.75" y="700" width="56.75" height="26.75" rx="4.5" fill="#fff" stroke="#ff0000" stroke-width="1.3"/>
<text class="eth" x="460.12" y="718.2">eth0</text>
<line x1="444.52" y1="720.9" x2="475.73" y2="720.9" stroke="#222" stroke-width="1"/>
<rect x="490.5" y="700" width="51.00" height="26.75" rx="4.5" fill="#fff" stroke="#0000ff" stroke-width="1.3"/>
<text class="eth" x="516.00" y="718.2">eth1</text>
<line x1="500.40" y1="720.9" x2="531.60" y2="720.9" stroke="#222" stroke-width="1"/>
<rect x="543.75" y="700" width="50.75" height="26.75" rx="4.5" fill="#fff" stroke="#800080" stroke-width="1.3"/>
<text class="eth" x="569.12" y="718.2">eth2</text>
<line x1="553.52" y1="720.9" x2="584.73" y2="720.9" stroke="#222" stroke-width="1"/>
<rect x="596.5" y="700" width="51.00" height="26.75" rx="4.5" fill="#fff" stroke="#008000" stroke-width="1.3"/>
<text class="eth" x="622.00" y="718.2">eth3</text>
<line x1="606.40" y1="720.9" x2="637.60" y2="720.9" stroke="#222" stroke-width="1"/>
<rect x="831.2" y="709.3" width="53.80" height="25.70" rx="4.5" fill="#fff" stroke="#808000" stroke-width="1.2"/>
<text class="eth" x="858.10" y="726.7">IPMI</text>
<line x1="841.60" y1="729.4" x2="874.60" y2="729.4" stroke="#222" stroke-width="1"/>
<rect x="394" y="750.25" width="540.6" height="46.4" fill="url(#gsv)" stroke="#222" stroke-width="1"/>
<line x1="394" y1="795.8" x2="934.6" y2="795.8" stroke="#555" stroke-width="1.6"/>
<rect x="394" y="750.25" width="26.3" height="46.4" fill="url(#gear)" stroke="#222" stroke-width="1"/>
<rect x="907.6" y="750.25" width="27.0" height="46.4" fill="url(#gear2)" stroke="#222" stroke-width="1"/>
<polygon points="411.57,759.30 407.15,761.85 402.73,759.30 402.73,754.20 407.15,751.65 411.57,754.20" fill="#d6d6d6" stroke="#222" stroke-width="1"/>
<polygon points="411.57,792.65 407.15,795.20 402.73,792.65 402.73,787.55 407.15,785.00 411.57,787.55" fill="#d6d6d6" stroke="#222" stroke-width="1"/>
<polygon points="925.82,759.30 921.40,761.85 916.98,759.30 916.98,754.20 921.40,751.65 925.82,754.20" fill="#d6d6d6" stroke="#222" stroke-width="1"/>
<polygon points="925.82,792.65 921.40,795.20 916.98,792.65 916.98,787.55 921.40,785.00 925.82,787.55" fill="#d6d6d6" stroke="#222" stroke-width="1"/>
<rect x="432.5" y="757.5" width="57.00" height="27.00" rx="4.5" fill="#fff" stroke="#ff0000" stroke-width="1.3"/>
<text class="eth" x="461.00" y="775.7">eth0</text>
<line x1="445.40" y1="778.4" x2="476.60" y2="778.4" stroke="#222" stroke-width="1"/>
<rect x="491.5" y="757.5" width="50.50" height="27.00" rx="4.5" fill="#fff" stroke="#0000ff" stroke-width="1.3"/>
<text class="eth" x="516.75" y="775.7">eth1</text>
<line x1="501.15" y1="778.4" x2="532.35" y2="778.4" stroke="#222" stroke-width="1"/>
<rect x="544.5" y="757.5" width="51.00" height="27.00" rx="4.5" fill="#fff" stroke="#800080" stroke-width="1.3"/>
<text class="eth" x="570.00" y="775.7">eth2</text>
<line x1="554.40" y1="778.4" x2="585.60" y2="778.4" stroke="#222" stroke-width="1"/>
<rect x="597.5" y="757.5" width="51.00" height="27.00" rx="4.5" fill="#fff" stroke="#008000" stroke-width="1.3"/>
<text class="eth" x="623.00" y="775.7">eth3</text>
<line x1="607.40" y1="778.4" x2="638.60" y2="778.4" stroke="#222" stroke-width="1"/>
<rect x="831.8" y="768.5" width="53.70" height="25.80" rx="4.5" fill="#fff" stroke="#808000" stroke-width="1.2"/>
<text class="eth" x="858.65" y="785.9">IPMI</text>
<line x1="842.15" y1="788.6" x2="875.15" y2="788.6" stroke="#222" stroke-width="1"/>
<rect x="393.5" y="807.2" width="541.9" height="45.8" fill="url(#gsv)" stroke="#222" stroke-width="1"/>
<line x1="393.5" y1="852.2" x2="935.4" y2="852.2" stroke="#555" stroke-width="1.6"/>
<rect x="393.5" y="807.2" width="25.8" height="45.8" fill="url(#gear)" stroke="#222" stroke-width="1"/>
<rect x="908.6" y="807.2" width="26.8" height="45.8" fill="url(#gear2)" stroke="#222" stroke-width="1"/>
<polygon points="410.82,816.25 406.40,818.80 401.98,816.25 401.98,811.15 406.40,808.60 410.82,811.15" fill="#d6d6d6" stroke="#222" stroke-width="1"/>
<polygon points="410.82,849.05 406.40,851.60 401.98,849.05 401.98,843.95 406.40,841.40 410.82,843.95" fill="#d6d6d6" stroke="#222" stroke-width="1"/>
<polygon points="926.72,816.25 922.30,818.80 917.88,816.25 917.88,811.15 922.30,808.60 926.72,811.15" fill="#d6d6d6" stroke="#222" stroke-width="1"/>
<polygon points="926.72,849.05 922.30,851.60 917.88,849.05 917.88,843.95 922.30,841.40 926.72,843.95" fill="#d6d6d6" stroke="#222" stroke-width="1"/>
<rect x="431.75" y="814" width="56.55" height="26.75" rx="4.5" fill="#fff" stroke="#ff0000" stroke-width="1.3"/>
<text class="eth" x="460.02" y="832.2">eth0</text>
<line x1="444.42" y1="834.9" x2="475.62" y2="834.9" stroke="#222" stroke-width="1"/>
<rect x="491" y="814" width="50.75" height="26.75" rx="4.5" fill="#fff" stroke="#0000ff" stroke-width="1.3"/>
<text class="eth" x="516.38" y="832.2">eth1</text>
<line x1="500.77" y1="834.9" x2="531.98" y2="834.9" stroke="#222" stroke-width="1"/>
<rect x="544.25" y="814" width="50.75" height="26.75" rx="4.5" fill="#fff" stroke="#800080" stroke-width="1.3"/>
<text class="eth" x="569.62" y="832.2">eth2</text>
<line x1="554.02" y1="834.9" x2="585.23" y2="834.9" stroke="#222" stroke-width="1"/>
<rect x="597.25" y="814" width="50.75" height="26.75" rx="4.5" fill="#fff" stroke="#008000" stroke-width="1.3"/>
<text class="eth" x="622.62" y="832.2">eth3</text>
<line x1="607.02" y1="834.9" x2="638.23" y2="834.9" stroke="#222" stroke-width="1"/>
<rect x="831.6" y="825.3" width="53.90" height="26.20" rx="4.5" fill="#fff" stroke="#808000" stroke-width="1.2"/>
<text class="eth" x="858.55" y="842.7">IPMI</text>
<line x1="842.05" y1="845.4" x2="875.05" y2="845.4" stroke="#222" stroke-width="1"/>
<rect x="393.5" y="865.1" width="541.9" height="45.5" fill="url(#gsv)" stroke="#222" stroke-width="1"/>
<line x1="393.5" y1="909.8" x2="935.4" y2="909.8" stroke="#555" stroke-width="1.6"/>
<rect x="393.5" y="865.1" width="25.8" height="45.5" fill="url(#gear)" stroke="#222" stroke-width="1"/>
<rect x="909.2" y="865.1" width="26.2" height="45.5" fill="url(#gear2)" stroke="#222" stroke-width="1"/>
<polygon points="410.82,874.15 406.40,876.70 401.98,874.15 401.98,869.05 406.40,866.50 410.82,869.05" fill="#d6d6d6" stroke="#222" stroke-width="1"/>
<polygon points="410.82,906.65 406.40,909.20 401.98,906.65 401.98,901.55 406.40,899.00 410.82,901.55" fill="#d6d6d6" stroke="#222" stroke-width="1"/>
<polygon points="927.02,874.15 922.60,876.70 918.18,874.15 918.18,869.05 922.60,866.50 927.02,869.05" fill="#d6d6d6" stroke="#222" stroke-width="1"/>
<polygon points="927.02,906.65 922.60,909.20 918.18,906.65 918.18,901.55 922.60,899.00 927.02,901.55" fill="#d6d6d6" stroke="#222" stroke-width="1"/>
<rect x="432" y="872" width="56.50" height="26.75" rx="4.5" fill="#fff" stroke="#ff0000" stroke-width="1.3"/>
<text class="eth" x="460.25" y="890.2">eth0</text>
<line x1="444.65" y1="892.9" x2="475.85" y2="892.9" stroke="#222" stroke-width="1"/>
<rect x="491.5" y="872" width="50.50" height="26.75" rx="4.5" fill="#fff" stroke="#0000ff" stroke-width="1.3"/>
<text class="eth" x="516.75" y="890.2">eth1</text>
<line x1="501.15" y1="892.9" x2="532.35" y2="892.9" stroke="#222" stroke-width="1"/>
<rect x="545" y="872" width="50.50" height="26.75" rx="4.5" fill="#fff" stroke="#800080" stroke-width="1.3"/>
<text class="eth" x="570.25" y="890.2">eth2</text>
<line x1="554.65" y1="892.9" x2="585.85" y2="892.9" stroke="#222" stroke-width="1"/>
<rect x="598" y="872" width="50.75" height="26.75" rx="4.5" fill="#fff" stroke="#008000" stroke-width="1.3"/>
<text class="eth" x="623.38" y="890.2">eth3</text>
<line x1="607.77" y1="892.9" x2="638.98" y2="892.9" stroke="#222" stroke-width="1"/>
<rect x="831.6" y="883.1" width="53.90" height="26.30" rx="4.5" fill="#fff" stroke="#808000" stroke-width="1.2"/>
<text class="eth" x="858.55" y="900.5">IPMI</text>
<line x1="842.05" y1="903.2" x2="875.05" y2="903.2" stroke="#222" stroke-width="1"/>
<path class="w" d="M517.1,156 V139.3 Q517.1,134.2 512.1,134.2 H381.9 Q375.9,134.2 375.9,140.2 V899 C375.9,908 381,912 392,912 H455.2 Q460.2,912 460.2,907 V898.7" stroke="#ff0000" stroke-width="1.7" />
<path class="w" d="M450.5,156 V139.3 Q450.5,134.2 445.5,134.2" stroke="#ff0000" stroke-width="1.5" />
<path class="w" d="M469.0,156 V139.3 Q469.0,134.2 464.0,134.2" stroke="#ff0000" stroke-width="1.5" />
<path class="w" d="M485.0,156 V139.3 Q485.0,134.2 480.0,134.2" stroke="#ff0000" stroke-width="1.5" />
<path class="w" d="M500.0,156 V139.3 Q500.0,134.2 495.0,134.2" stroke="#ff0000" stroke-width="1.5" />
<path class="w" d="M375.9,649.25 C375.9,671.25 384,679.25 401,679.25 H456.40 Q461.40,679.25 461.40,674.25 V665.75" stroke="#ff0000" stroke-width="1.1" />
<path class="w" d="M375.9,710.30 C375.9,732.30 384,740.30 401,740.30 H455.25 Q460.25,740.30 460.25,735.30 V726.75" stroke="#ff0000" stroke-width="1.7" />
<path class="w" d="M375.9,767.50 C375.9,789.50 384,797.50 401,797.50 H456.25 Q461.25,797.50 461.25,792.50 V784.5" stroke="#ff0000" stroke-width="1.7" />
<path class="w" d="M375.9,824.00 C375.9,846.00 384,854.00 401,854.00 H455.00 Q460.00,854.00 460.00,849.00 V840.75" stroke="#ff0000" stroke-width="1.7" />
<path class="w" d="M500.9,223 V208.2 Q500.9,202 494.9,202 H383.5 C380.5,202 379.5,197.4 375.9,197.4 C372.5,197.4 371.5,200.5 370.3,201.5 L369.7,203 V902 C369.7,910 375,915 385,915 H511.7 Q516.7,915 516.7,910 V898.7" stroke="#0000ff" stroke-width="1.7" />
<path class="w" d="M451.6,223 V208 Q451.6,202 445.6,202" stroke="#0000ff" stroke-width="1.5" />
<path class="w" d="M468.0,223 V208 Q468.0,202 462.0,202" stroke="#0000ff" stroke-width="1.5" />
<path class="w" d="M484.5,223 V208 Q484.5,202 478.5,202" stroke="#0000ff" stroke-width="1.5" />
<path class="w" d="M515.75,726.75 V738 Q515.75,743 510.75,743 H389 C382,743 380,738.80 375.4,738.80 C373.3,738.80 372.3,741.50 371.2,743.30 L369.7,745.00" stroke="#0000ff" stroke-width="1.7" />
<path class="w" d="M516.75,784.5 V795.5 Q516.75,800.5 511.75,800.5 H389 C382,800.5 380,796.30 375.4,796.30 C373.3,796.30 372.3,799.00 371.2,800.80 L369.7,802.50" stroke="#0000ff" stroke-width="1.7" />
<path class="w" d="M516,840.75 V852 Q516,857 511,857 H389 C382,857 380,852.80 375.4,852.80 C373.3,852.80 372.3,855.50 371.2,857.30 L369.7,859.00" stroke="#0000ff" stroke-width="1.7" />
<path class="w" d="M517.3,285.3 V275 Q517.3,269 511.3,269 H385 C380.5,269 378,261 372.8,261 C368,261 366.8,264.5 365.2,267.2 L363.9,269 V905 C363.9,913 369,917.8 379,917.8 H565.2 Q570.2,917.8 570.2,912.8 V898.7" stroke="#800080" stroke-width="1.6" />
<path class="w" d="M451.6,285.3 V275 Q451.6,269 445.6,269" stroke="#800080" stroke-width="1.4" />
<path class="w" d="M468.0,285.3 V275 Q468.0,269 462.0,269" stroke="#800080" stroke-width="1.4" />
<path class="w" d="M484.5,285.3 V275 Q484.5,269 478.5,269" stroke="#800080" stroke-width="1.4" />
<path class="w" d="M500.9,285.3 V275 Q500.9,269 494.9,269" stroke="#800080" stroke-width="1.4" />
<path class="w" d="M516.75,665.75 V676.9 Q516.75,681.9 511.75,681.9 H392 C383,681.9 379,675.20 372.5,675.20 C368.5,675.20 367.5,679.90 365.4,682.20 L363.9,683.90" stroke="#a040a0" stroke-width="1.1" />
<path class="w" d="M569.25,726.75 V741.2 Q569.25,746.2 564.25,746.2 H392 C383,746.2 379,739.50 372.5,739.50 C368.5,739.50 367.5,744.20 365.4,746.50 L363.9,748.20" stroke="#800080" stroke-width="1.6" />
<path class="w" d="M570.25,784.5 V798.75 Q570.25,803.75 565.25,803.75 H392 C383,803.75 379,797.05 372.5,797.05 C368.5,797.05 367.5,801.75 365.4,804.05 L363.9,805.75" stroke="#800080" stroke-width="1.6" />
<path class="w" d="M569.75,840.75 V855 Q569.75,860 564.75,860 H392 C383,860 379,853.30 372.5,853.30 C368.5,853.30 367.5,858.00 365.4,860.30 L363.9,862.00" stroke="#800080" stroke-width="1.6" />
<path class="w" d="M500.9,349.5 V339.5 Q500.9,333.5 494.9,333.5 H388 C380,333.5 377,323 369.3,323 C362.5,323 360,327 359.0,333 V907 C359.0,916 365,920.8 376,920.8 H618.2 Q623.2,920.8 623.2,915.8 V898.7" stroke="#008000" stroke-width="1.6" />
<path class="w" d="M451.6,349.5 V339.5 Q451.6,333.5 445.6,333.5" stroke="#008000" stroke-width="1.4" />
<path class="w" d="M468.0,349.5 V339.5 Q468.0,333.5 462.0,333.5" stroke="#008000" stroke-width="1.4" />
<path class="w" d="M484.5,349.5 V339.5 Q484.5,333.5 478.5,333.5" stroke="#008000" stroke-width="1.4" />
<path class="w" d="M622,726.75 V744.3 Q622,749.3 617,749.3 H395 C384,749.3 378,739.30 367.3,739.30 C362,739.30 361,745.30 359.0,750.30" stroke="#008000" stroke-width="1.6" />
<path class="w" d="M623.25,784.5 V801.75 Q623.25,806.75 618.25,806.75 H395 C384,806.75 378,796.75 367.3,796.75 C362,796.75 361,802.75 359.0,807.75" stroke="#008000" stroke-width="1.6" />
<path class="w" d="M622.5,840.75 V858.25 Q622.5,863.25 617.5,863.25 H395 C384,863.25 378,853.25 367.3,853.25 C362,853.25 361,859.25 359.0,864.25" stroke="#008000" stroke-width="1.6" />
<path class="w" d="M459.8,432.8 V474.5 Q459.8,480.5 465.8,480.5 H940.4 Q946.4,480.5 946.4,486.5 V896 C946.4,908 938,917.1 925,917.1 H863.2 Q858.2,917.1 858.2,912.1 V909.4" stroke="#808000" stroke-width="1.5" />
<path class="w" d="M477.0,432.8 V474.5 Q477.0,480.5 483.0,480.5" stroke="#808000" stroke-width="1.4" />
<path class="w" d="M492.9,432.8 V474.5 Q492.9,480.5 498.9,480.5" stroke="#808000" stroke-width="1.4" />
<path class="w" d="M510.3,432.8 V474.5 Q510.3,480.5 516.3,480.5" stroke="#808000" stroke-width="1.4" />
<path class="w" d="M859,673.4 V677 Q859,681 863,681 H918 C934,681 946.4,671.0 946.4,657.0" stroke="#808000" stroke-width="1.1" />
<path class="w" d="M857.8,735 V739.7 Q857.8,743.7 861.8,743.7 H918 C934,743.7 946.4,733.7 946.4,719.7" stroke="#808000" stroke-width="1.1" />
<path class="w" d="M858.2,794.3 V798.8 Q858.2,802.8 862.2,802.8 H918 C934,802.8 946.4,792.8 946.4,778.8" stroke="#808000" stroke-width="1.1" />
<path class="w" d="M858.2,851.5 V852.6 Q858.2,856.1 862,856.1 H884 C900,856.1 906,846 907.5,830 C908.5,815 909,806.3 918,805.3 C934,803.5 946.4,797 946.4,784" stroke="#808000" stroke-width="1.1" />
<path class="w" d="M817.4,163.5 V194.3 Q817.4,200.3 811.4,200.3 H769.4 Q763.4,200.3 763.4,206.3 V396.9 Q763.4,402.9 757.4,402.9 H645.3 Q639.3,402.9 639.3,408.9 V427.5" stroke="#33cc33" stroke-width="3" />
<path class="w" d="M816.6,230.7 V263.4 Q816.6,269.4 810.6,269.4 H774.6 Q768.6,269.4 768.6,275.4 V401.6 Q768.6,407.6 762.6,407.6 H663.5 Q657.5,407.6 657.5,413.6 V427.5" stroke="#33cc33" stroke-width="3" />
<line x1="832.9" y1="163.5" x2="832.9" y2="224" stroke="#ffc400" stroke-width="4.3"/>
<line x1="832.1" y1="164.5" x2="832.1" y2="223" stroke="#0000ff" stroke-width="1.6" stroke-dasharray="2.3 1.5"/>
<line x1="833.6999999999999" y1="164.5" x2="833.6999999999999" y2="223" stroke="#ff0000" stroke-width="1.6" stroke-dasharray="2.3 1.5"/>
<line x1="850.1" y1="163.5" x2="850.1" y2="224" stroke="#ffc400" stroke-width="4.3"/>
<line x1="849.3000000000001" y1="164.5" x2="849.3000000000001" y2="223" stroke="#0000ff" stroke-width="1.6" stroke-dasharray="2.3 1.5"/>
<line x1="850.9" y1="164.5" x2="850.9" y2="223" stroke="#ff0000" stroke-width="1.6" stroke-dasharray="2.3 1.5"/>
<line x1="833.7" y1="299" x2="833.7" y2="359.5" stroke="#ffe000" stroke-width="4.3"/>
<line x1="832.9000000000001" y1="300" x2="832.9000000000001" y2="358.5" stroke="#800080" stroke-width="1.6" stroke-dasharray="2.3 1.5"/>
<line x1="834.5" y1="300" x2="834.5" y2="358.5" stroke="#7a9a20" stroke-width="1.1" stroke-dasharray="2.3 1.5"/>
<line x1="850.4" y1="299" x2="850.4" y2="359.5" stroke="#ffe000" stroke-width="4.3"/>
<line x1="849.6" y1="300" x2="849.6" y2="358.5" stroke="#800080" stroke-width="1.6" stroke-dasharray="2.3 1.5"/>
<line x1="851.1999999999999" y1="300" x2="851.1999999999999" y2="358.5" stroke="#7a9a20" stroke-width="1.1" stroke-dasharray="2.3 1.5"/>
<path class="w" d="M1138.1,123 L1138.10,182.00 Q1138.1,204 1116.10,204.00 L985.80,204.00 Q963.8,204 963.80,226.00 L963.80,255.00 Q963.8,277 941.80,277.00 L874.40,277.00 Q867.4,277 867.40,284.00 L867.4,288.5" stroke="#ff6600" stroke-width="4" stroke-linecap="round"/>
<path class="w" d="M1138.1,123 L1138.10,182.00 Q1138.1,204 1116.10,204.00 L985.80,204.00 Q963.8,204 963.80,226.00 L963.80,255.00 Q963.8,277 941.80,277.00 L874.40,277.00 Q867.4,277 867.40,284.00 L867.4,288.5" stroke="#ffc000" stroke-width="1.3" stroke-dasharray="1 1.3"/>
<path class="w" d="M1149.4,123 L1149.40,190.80 Q1149.4,212.8 1127.40,212.80 L997.30,212.80 Q975.3,212.8 975.30,234.80 L975.30,309.00 Q975.3,331 953.30,331.00 L876.40,331.00 Q867.4,331 867.40,322.00 L867.4,307.5" stroke="#ff6600" stroke-width="4" stroke-linecap="round"/>
<path class="w" d="M1149.4,123 L1149.40,190.80 Q1149.4,212.8 1127.40,212.80 L997.30,212.80 Q975.3,212.8 975.30,234.80 L975.30,309.00 Q975.3,331 953.30,331.00 L876.40,331.00 Q867.4,331 867.40,322.00 L867.4,307.5" stroke="#ffc000" stroke-width="1.3" stroke-dasharray="1 1.3"/>
<path class="w" d="M1160.6,123 L1160.60,200.00 Q1160.6,222 1138.60,222.00 L1007.90,222.00 Q985.9,222 985.90,244.00 L985.90,319.70 Q985.9,341.7 963.90,341.70 L873.90,341.70 Q866.9,341.7 866.90,348.70 L866.9,358.5" stroke="#ff6600" stroke-width="4" stroke-linecap="round"/>
<path class="w" d="M1160.6,123 L1160.60,200.00 Q1160.6,222 1138.60,222.00 L1007.90,222.00 Q985.9,222 985.90,244.00 L985.90,319.70 Q985.9,341.7 963.90,341.70 L873.90,341.70 Q866.9,341.7 866.90,348.70 L866.9,358.5" stroke="#ffc000" stroke-width="1.3" stroke-dasharray="1 1.3"/>
<path class="w" d="M1170.7,123 L1170.70,209.20 Q1170.7,231.2 1148.70,231.20 L1015.40,231.20 Q993.4,231.2 993.40,253.20 L993.40,373.50 Q993.4,395.5 971.40,395.50 L875.90,395.50 Q866.9,395.5 866.90,386.50 L866.9,372.5" stroke="#ff6600" stroke-width="4" stroke-linecap="round"/>
<path class="w" d="M1170.7,123 L1170.70,209.20 Q1170.7,231.2 1148.70,231.20 L1015.40,231.20 Q993.4,231.2 993.40,253.20 L993.40,373.50 Q993.4,395.5 971.40,395.50 L875.90,395.50 Q866.9,395.5 866.90,386.50 L866.9,372.5" stroke="#ffc000" stroke-width="1.3" stroke-dasharray="1 1.3"/>
</svg></body></html>
